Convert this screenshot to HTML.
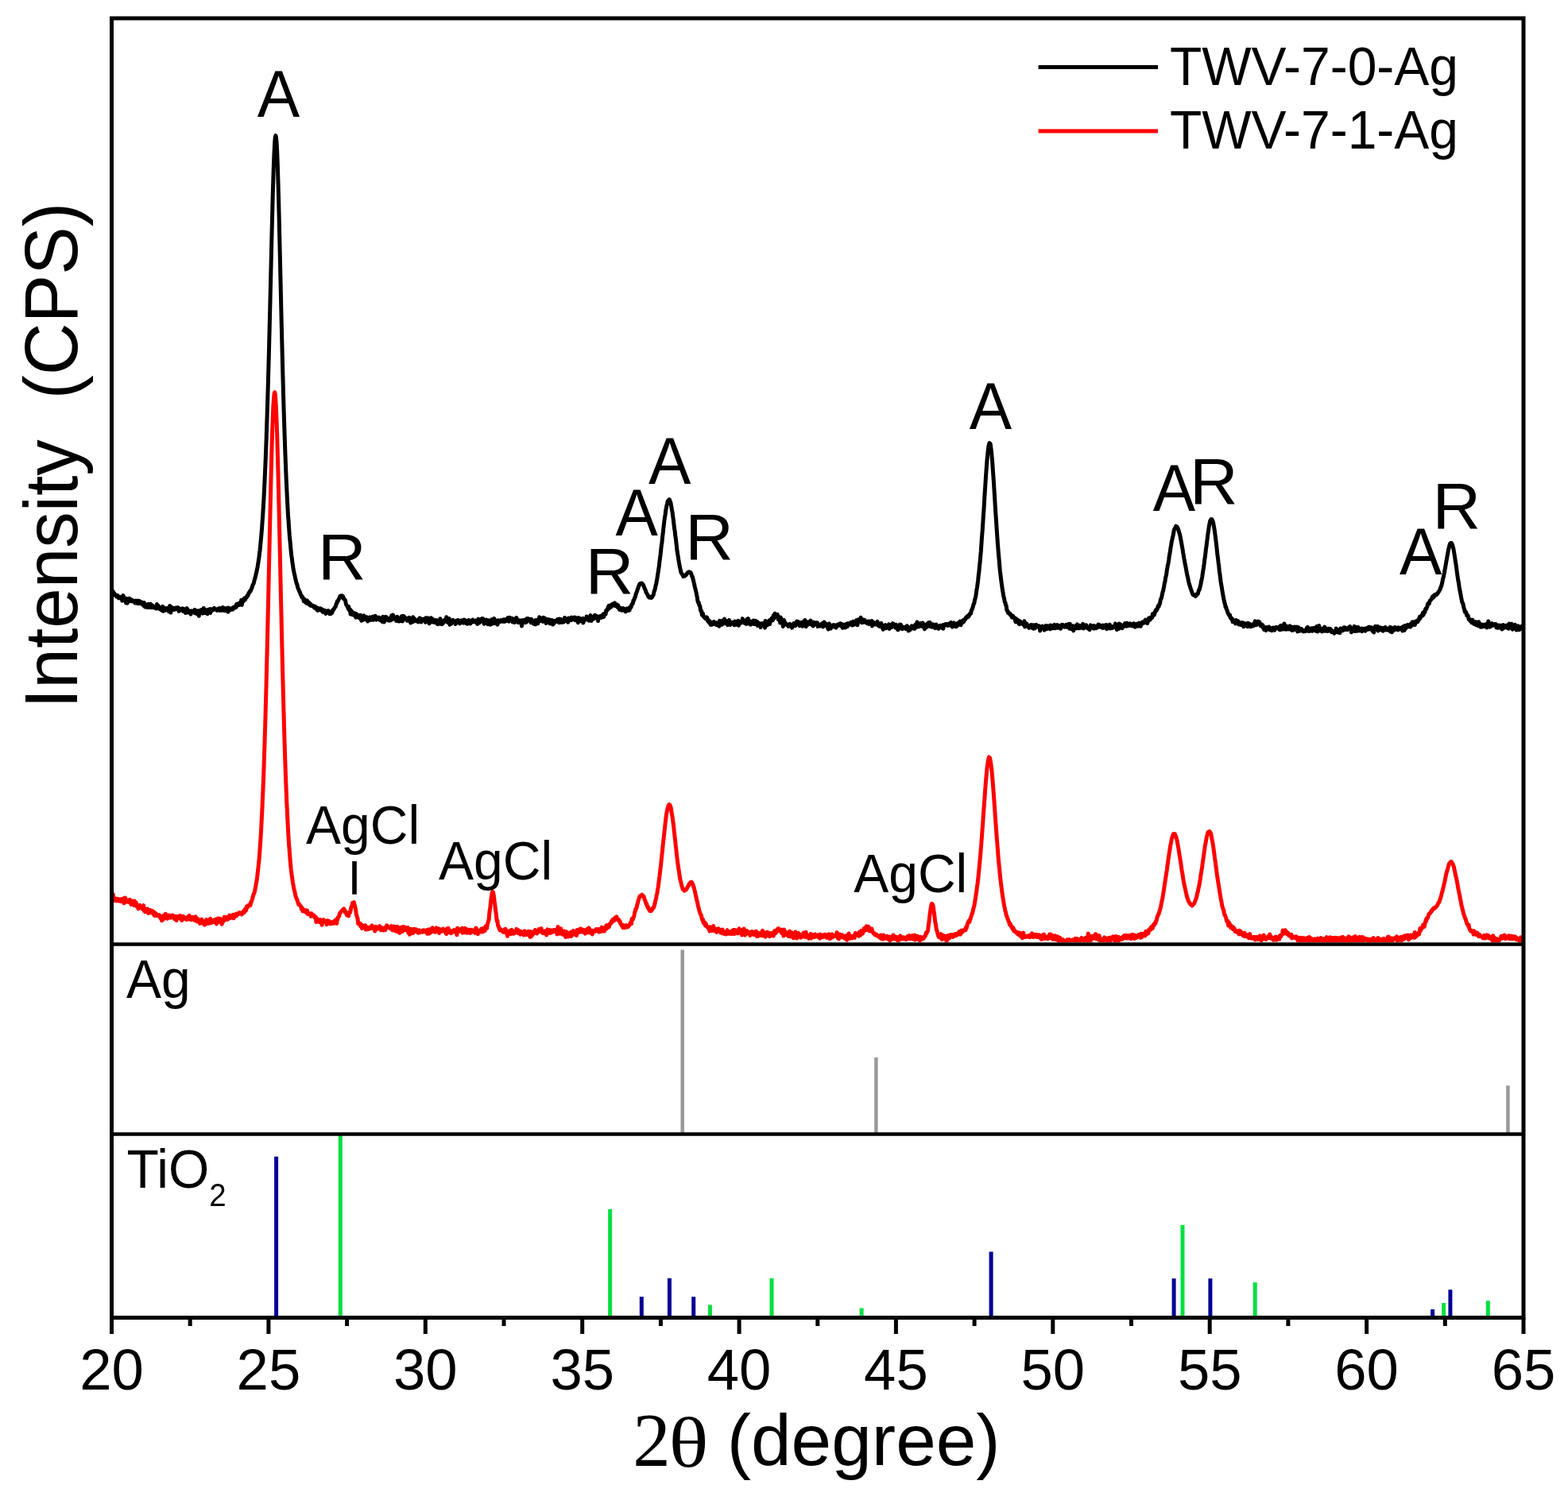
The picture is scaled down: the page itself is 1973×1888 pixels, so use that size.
<!DOCTYPE html><html><head><meta charset="utf-8"><style>html,body{margin:0;padding:0;background:#fff;}svg{display:block}</style></head><body><svg width="1973" height="1888" viewBox="0 0 1973 1888">
<rect width="1973" height="1888" fill="#fff"/>
<defs><clipPath id="cp"><rect x="140" y="23" width="1777" height="1163"/></clipPath></defs>
<g clip-path="url(#cp)">
<polyline points="140.5,746.3 141.1,747.5 141.7,746.9 142.3,744.4 142.9,748.7 143.5,748.3 144.1,747.0 144.7,749.4 145.3,749.5 145.9,749.8 146.5,749.8 147.1,751.2 147.7,749.3 148.3,750.8 148.9,750.6 149.5,752.9 150.1,752.3 150.7,752.0 151.3,751.4 151.9,752.7 152.5,753.4 153.1,753.1 153.7,756.1 154.3,755.8 154.9,749.4 155.5,751.0 156.1,754.2 156.7,753.9 157.3,755.2 157.9,755.4 158.5,758.9 159.1,753.3 159.7,754.8 160.3,759.2 160.9,756.9 161.5,757.0 162.1,755.1 162.7,753.2 163.3,756.6 163.9,756.6 164.5,754.4 165.1,755.4 165.7,756.6 166.3,755.2 166.9,756.7 167.5,757.2 168.1,757.1 168.7,756.3 169.3,758.3 169.9,758.9 170.5,758.0 171.1,756.1 171.7,758.9 172.3,756.8 172.9,759.4 173.5,756.1 174.1,759.7 174.7,758.3 175.3,756.3 175.9,758.2 176.5,759.1 177.1,759.7 177.7,757.8 178.3,757.9 178.9,760.5 179.5,759.7 180.1,761.3 180.7,762.5 181.3,758.5 181.9,762.1 182.5,764.0 183.1,761.6 183.7,760.9 184.3,763.9 184.9,763.1 185.5,764.4 186.1,762.3 186.7,760.4 187.3,762.9 187.9,762.4 188.5,764.5 189.1,763.5 189.7,760.4 190.3,761.1 190.9,764.8 191.5,764.5 192.1,762.2 192.7,763.4 193.3,764.2 193.9,764.4 194.5,765.2 195.1,764.2 195.7,763.7 196.3,763.6 196.9,766.0 197.5,760.4 198.1,764.3 198.7,764.7 199.3,762.4 199.9,765.6 200.5,764.0 201.1,766.8 201.7,765.2 202.3,766.7 202.9,767.8 203.5,766.4 204.1,764.4 204.7,763.4 205.3,769.2 205.9,766.1 206.5,765.2 207.1,766.8 207.7,766.3 208.3,768.2 208.9,766.9 209.5,766.9 210.1,765.7 210.7,767.8 211.3,765.2 211.9,768.1 212.5,769.6 213.1,764.2 213.7,762.5 214.3,767.8 214.9,771.1 215.5,764.9 216.1,764.4 216.7,767.6 217.3,765.1 217.9,765.6 218.5,765.9 219.1,767.4 219.7,765.8 220.3,767.0 220.9,766.2 221.5,765.1 222.1,766.0 222.7,765.0 223.3,766.6 223.9,764.7 224.5,764.9 225.1,769.3 225.7,766.8 226.3,766.9 226.9,767.9 227.5,766.5 228.1,766.9 228.7,768.2 229.3,768.1 229.9,765.8 230.5,769.4 231.1,767.1 231.7,766.5 232.3,767.0 232.9,768.0 233.5,771.6 234.1,767.0 234.7,769.4 235.3,765.6 235.9,769.3 236.5,770.9 237.1,769.1 237.7,768.5 238.3,770.0 238.9,770.9 239.5,770.9 240.1,773.1 240.7,770.2 241.3,768.9 241.9,769.8 242.5,769.9 243.1,770.3 243.7,770.1 244.3,770.5 244.9,767.5 245.5,771.8 246.1,769.5 246.7,768.5 247.3,771.6 247.9,772.7 248.5,771.3 249.1,770.8 249.7,768.9 250.3,775.3 250.9,771.9 251.5,768.5 252.1,769.0 252.7,770.4 253.3,767.6 253.9,770.4 254.5,769.3 255.1,772.1 255.7,771.6 256.3,765.4 256.9,770.0 257.5,767.2 258.1,771.6 258.7,770.0 259.3,770.6 259.9,767.9 260.5,772.5 261.1,772.7 261.7,767.6 262.3,769.8 262.9,767.9 263.5,768.8 264.1,766.6 264.7,771.5 265.3,766.7 265.9,767.7 266.5,768.8 267.1,766.7 267.7,767.3 268.3,766.6 268.9,767.2 269.5,765.4 270.1,766.6 270.7,766.9 271.3,766.7 271.9,767.3 272.5,766.8 273.1,768.5 273.7,766.8 274.3,767.2 274.9,766.4 275.5,766.7 276.1,765.5 276.7,768.4 277.3,765.8 277.9,766.5 278.5,768.2 279.1,768.3 279.7,767.0 280.3,764.5 280.9,768.3 281.5,768.0 282.1,765.5 282.7,768.8 283.3,766.6 283.9,765.9 284.5,767.8 285.1,767.4 285.7,767.9 286.3,765.2 286.9,770.3 287.5,766.7 288.1,765.2 288.7,768.3 289.3,766.8 289.9,767.7 290.5,766.6 291.1,766.8 291.7,767.0 292.3,765.4 292.9,767.1 293.5,765.2 294.1,764.3 294.7,765.2 295.3,765.3 295.9,764.0 296.5,762.7 297.1,764.3 297.7,760.6 298.3,761.1 298.9,762.1 299.5,759.8 300.1,761.2 300.7,760.6 301.3,761.3 301.9,758.5 302.5,758.4 303.1,759.1 303.7,755.2 304.3,761.4 304.9,756.4 305.5,755.8 306.1,757.1 306.7,755.6 307.3,753.0 307.9,755.1 308.5,754.7 309.1,752.6 309.7,752.0 310.3,752.0 310.9,749.9 311.5,750.3 312.1,749.2 312.7,747.4 313.3,745.8 313.9,745.8 314.5,744.1 315.1,744.4 315.7,742.5 316.3,741.6 316.9,739.8 317.5,738.4 318.1,736.2 318.7,735.3 319.3,734.1 319.9,731.2 320.5,729.0 321.1,727.0 321.7,724.5 322.3,721.8 322.9,719.5 323.5,716.3 324.1,713.8 324.7,709.6 325.3,705.8 325.9,701.9 326.5,696.6 327.1,692.3 327.7,685.8 328.3,679.5 328.9,673.0 329.5,665.7 330.1,657.0 330.7,648.7 331.3,638.2 331.9,628.9 332.5,616.6 333.1,603.7 333.7,589.9 334.3,575.4 334.9,559.5 335.5,542.0 336.1,523.8 336.7,504.6 337.3,483.8 337.9,462.7 338.5,440.0 339.1,415.8 339.7,391.5 340.3,365.6 340.9,341.1 341.5,315.5 342.1,290.8 342.7,267.2 343.3,242.9 343.9,223.5 344.5,204.9 345.1,190.9 345.7,179.1 346.3,172.6 346.9,170.6 347.5,173.1 348.1,179.9 348.7,191.1 349.3,206.7 349.9,226.3 350.5,247.6 351.1,270.5 351.7,296.8 352.3,322.5 352.9,349.0 353.5,374.7 354.1,401.0 354.7,425.2 355.3,450.1 355.9,472.7 356.5,495.2 357.1,516.1 357.7,534.8 358.3,553.3 358.9,570.3 359.5,586.6 360.1,600.9 360.7,613.4 361.3,626.5 361.9,637.9 362.5,648.8 363.1,656.5 363.7,665.6 364.3,674.2 364.9,680.1 365.5,686.6 366.1,693.3 366.7,698.8 367.3,702.9 367.9,707.9 368.5,711.7 369.1,716.1 369.7,718.8 370.3,722.3 370.9,724.3 371.5,727.3 372.1,729.8 372.7,732.7 373.3,734.5 373.9,735.9 374.5,738.6 375.1,740.6 375.7,741.8 376.3,743.3 376.9,744.9 377.5,745.3 378.1,748.0 378.7,749.3 379.3,749.6 379.9,752.0 380.5,751.1 381.1,752.7 381.7,753.6 382.3,756.8 382.9,753.9 383.5,756.7 384.1,757.7 384.7,757.6 385.3,759.0 385.9,757.0 386.5,755.9 387.1,759.8 387.7,757.9 388.3,759.2 388.9,758.5 389.5,761.6 390.1,761.7 390.7,760.0 391.3,762.4 391.9,761.7 392.5,761.7 393.1,762.3 393.7,762.3 394.3,763.7 394.9,763.6 395.5,763.1 396.1,765.3 396.7,763.4 397.3,765.0 397.9,765.5 398.5,767.3 399.1,764.9 399.7,768.4 400.3,766.5 400.9,766.2 401.5,765.8 402.1,767.8 402.7,767.3 403.3,765.8 403.9,766.0 404.5,767.0 405.1,767.0 405.7,769.7 406.3,770.3 406.9,769.7 407.5,769.1 408.1,768.1 408.7,769.0 409.3,770.4 409.9,772.4 410.5,770.7 411.1,769.1 411.7,769.7 412.3,769.1 412.9,768.7 413.5,769.7 414.1,770.3 414.7,772.7 415.3,770.0 415.9,771.8 416.5,772.3 417.1,769.5 417.7,771.4 418.3,769.6 418.9,767.5 419.5,767.8 420.1,766.7 420.7,765.5 421.3,764.5 421.9,763.9 422.5,763.0 423.1,760.1 423.7,759.8 424.3,756.7 424.9,757.3 425.5,756.3 426.1,754.4 426.7,753.2 427.3,752.4 427.9,750.2 428.5,749.9 429.1,750.0 429.7,750.3 430.3,749.9 430.9,752.2 431.5,750.6 432.1,752.6 432.7,754.1 433.3,754.1 433.9,754.8 434.5,755.8 435.1,758.8 435.7,761.4 436.3,761.8 436.9,763.1 437.5,763.7 438.1,766.1 438.7,763.5 439.3,767.8 439.9,768.4 440.5,767.1 441.1,773.1 441.7,768.4 442.3,769.4 442.9,769.8 443.5,773.8 444.1,771.1 444.7,773.9 445.3,774.2 445.9,774.0 446.5,771.8 447.1,773.2 447.7,777.2 448.3,772.6 448.9,773.6 449.5,775.0 450.1,776.8 450.7,776.2 451.3,777.2 451.9,774.5 452.5,778.0 453.1,777.7 453.7,774.3 454.3,779.7 454.9,781.2 455.5,776.3 456.1,777.8 456.7,780.3 457.3,775.6 457.9,774.9 458.5,776.2 459.1,777.5 459.7,777.6 460.3,779.7 460.9,779.2 461.5,776.7 462.1,779.8 462.7,782.0 463.3,780.8 463.9,780.5 464.5,778.7 465.1,780.3 465.7,776.9 466.3,779.8 466.9,778.2 467.5,780.2 468.1,779.0 468.7,776.3 469.3,778.3 469.9,780.1 470.5,776.0 471.1,776.9 471.7,776.5 472.3,775.3 472.9,779.5 473.5,780.1 474.1,779.3 474.7,778.4 475.3,778.0 475.9,778.6 476.5,777.0 477.1,780.0 477.7,780.4 478.3,780.3 478.9,778.0 479.5,779.2 480.1,778.9 480.7,782.4 481.3,779.8 481.9,776.3 482.5,780.4 483.1,783.0 483.7,781.0 484.3,781.4 484.9,779.9 485.5,776.4 486.1,776.7 486.7,777.6 487.3,779.5 487.9,780.2 488.5,780.8 489.1,778.9 489.7,781.1 490.3,779.0 490.9,778.2 491.5,780.9 492.1,777.8 492.7,774.7 493.3,777.6 493.9,779.6 494.5,774.1 495.1,778.8 495.7,778.9 496.3,776.9 496.9,776.8 497.5,778.5 498.1,778.3 498.7,781.4 499.3,779.8 499.9,776.3 500.5,777.4 501.1,780.0 501.7,782.0 502.3,779.3 502.9,779.0 503.5,781.7 504.1,778.3 504.7,777.7 505.3,775.7 505.9,777.3 506.5,781.9 507.1,775.6 507.7,778.1 508.3,775.6 508.9,778.3 509.5,779.6 510.1,777.7 510.7,779.4 511.3,779.5 511.9,779.0 512.5,781.3 513.1,779.8 513.7,778.0 514.3,777.5 514.9,777.3 515.5,779.8 516.1,778.6 516.7,784.1 517.3,782.7 517.9,779.3 518.5,779.2 519.1,782.9 519.7,776.8 520.3,779.4 520.9,782.0 521.5,778.8 522.1,779.7 522.7,780.0 523.3,781.8 523.9,781.0 524.5,781.5 525.1,781.9 525.7,780.9 526.3,782.9 526.9,779.7 527.5,778.5 528.1,777.9 528.7,778.2 529.3,780.2 529.9,783.0 530.5,781.5 531.1,780.2 531.7,779.4 532.3,780.4 532.9,780.7 533.5,780.4 534.1,778.9 534.7,780.7 535.3,783.3 535.9,777.7 536.5,781.2 537.1,777.9 537.7,782.0 538.3,780.3 538.9,778.0 539.5,781.8 540.1,784.8 540.7,781.8 541.3,783.7 541.9,781.5 542.5,777.8 543.1,782.5 543.7,780.9 544.3,779.1 544.9,783.1 545.5,782.3 546.1,781.0 546.7,783.5 547.3,780.6 547.9,783.4 548.5,780.7 549.1,783.5 549.7,780.7 550.3,785.5 550.9,783.4 551.5,785.7 552.1,781.8 552.7,782.6 553.3,785.0 553.9,778.8 554.5,781.8 555.1,785.6 555.7,784.6 556.3,785.5 556.9,783.2 557.5,784.7 558.1,782.4 558.7,781.2 559.3,780.5 559.9,782.4 560.5,782.3 561.1,782.1 561.7,776.8 562.3,779.5 562.9,782.0 563.5,783.4 564.1,781.8 564.7,781.2 565.3,778.6 565.9,786.2 566.5,780.6 567.1,785.5 567.7,785.3 568.3,782.9 568.9,781.4 569.5,782.6 570.1,780.3 570.7,782.8 571.3,782.3 571.9,783.3 572.5,784.0 573.1,785.4 573.7,781.6 574.3,784.2 574.9,780.9 575.5,780.8 576.1,781.3 576.7,780.7 577.3,784.2 577.9,784.2 578.5,784.8 579.1,782.6 579.7,783.2 580.3,781.7 580.9,780.8 581.5,783.7 582.1,783.4 582.7,781.0 583.3,784.1 583.9,780.0 584.5,782.8 585.1,782.0 585.7,782.2 586.3,781.2 586.9,784.8 587.5,784.1 588.1,785.2 588.7,783.3 589.3,780.8 589.9,782.4 590.5,780.9 591.1,783.7 591.7,785.0 592.3,783.4 592.9,781.7 593.5,782.0 594.1,783.0 594.7,780.0 595.3,782.8 595.9,782.8 596.5,781.5 597.1,781.7 597.7,782.7 598.3,780.9 598.9,780.9 599.5,783.8 600.1,782.8 600.7,785.4 601.3,780.6 601.9,779.2 602.5,784.1 603.1,784.1 603.7,781.1 604.3,779.8 604.9,782.3 605.5,779.3 606.1,781.8 606.7,778.6 607.3,782.1 607.9,778.8 608.5,782.1 609.1,785.3 609.7,782.1 610.3,784.0 610.9,781.5 611.5,781.1 612.1,780.1 612.7,784.6 613.3,782.7 613.9,785.7 614.5,780.8 615.1,782.5 615.7,783.1 616.3,785.4 616.9,786.2 617.5,781.8 618.1,780.9 618.7,779.9 619.3,785.3 619.9,782.8 620.5,781.8 621.1,782.8 621.7,778.4 622.3,779.9 622.9,784.6 623.5,783.7 624.1,783.2 624.7,781.2 625.3,784.0 625.9,786.1 626.5,780.7 627.1,782.9 627.7,782.0 628.3,783.3 628.9,782.5 629.5,782.1 630.1,780.6 630.7,782.0 631.3,780.7 631.9,781.3 632.5,781.2 633.1,782.3 633.7,779.8 634.3,780.1 634.9,782.4 635.5,779.9 636.1,779.7 636.7,781.6 637.3,780.4 637.9,780.0 638.5,780.2 639.1,777.6 639.7,780.6 640.3,782.2 640.9,780.9 641.5,777.2 642.1,780.5 642.7,778.5 643.3,779.8 643.9,780.6 644.5,778.4 645.1,782.9 645.7,780.6 646.3,782.2 646.9,782.0 647.5,783.4 648.1,783.2 648.7,778.5 649.3,781.2 649.9,777.4 650.5,780.5 651.1,782.5 651.7,782.9 652.3,783.6 652.9,780.7 653.5,781.9 654.1,781.5 654.7,783.6 655.3,784.2 655.9,780.8 656.5,788.1 657.1,781.5 657.7,780.9 658.3,782.5 658.9,782.8 659.5,782.3 660.1,780.2 660.7,783.7 661.3,781.1 661.9,783.4 662.5,782.9 663.1,778.4 663.7,778.7 664.3,778.6 664.9,780.6 665.5,780.4 666.1,780.9 666.7,779.3 667.3,781.7 667.9,783.6 668.5,779.3 669.1,781.4 669.7,782.4 670.3,781.9 670.9,781.9 671.5,785.3 672.1,784.5 672.7,783.7 673.3,780.8 673.9,785.9 674.5,782.5 675.1,780.6 675.7,780.9 676.3,780.4 676.9,784.8 677.5,781.3 678.1,780.9 678.7,776.8 679.3,781.8 679.9,778.5 680.5,778.3 681.1,781.4 681.7,778.7 682.3,781.7 682.9,782.3 683.5,777.2 684.1,780.2 684.7,777.8 685.3,780.6 685.9,782.5 686.5,778.6 687.1,784.4 687.7,780.9 688.3,779.5 688.9,781.6 689.5,783.4 690.1,779.7 690.7,782.3 691.3,780.0 691.9,784.7 692.5,782.9 693.1,782.0 693.7,784.6 694.3,780.5 694.9,782.1 695.5,786.0 696.1,782.5 696.7,785.1 697.3,783.0 697.9,781.4 698.5,782.1 699.1,782.6 699.7,781.7 700.3,780.9 700.9,781.0 701.5,779.7 702.1,782.5 702.7,783.0 703.3,783.6 703.9,779.0 704.5,783.6 705.1,782.1 705.7,779.5 706.3,782.1 706.9,783.3 707.5,782.7 708.1,782.9 708.7,783.2 709.3,783.0 709.9,781.2 710.5,777.4 711.1,779.6 711.7,781.4 712.3,779.8 712.9,781.6 713.5,781.7 714.1,780.2 714.7,783.2 715.3,778.1 715.9,781.3 716.5,778.7 717.1,778.1 717.7,780.4 718.3,778.2 718.9,780.7 719.5,777.1 720.1,779.2 720.7,777.6 721.3,778.7 721.9,778.5 722.5,777.2 723.1,780.4 723.7,777.1 724.3,777.7 724.9,781.0 725.5,781.2 726.1,780.8 726.7,780.2 727.3,783.7 727.9,777.6 728.5,778.5 729.1,778.1 729.7,781.4 730.3,780.3 730.9,781.8 731.5,781.6 732.1,779.5 732.7,778.5 733.3,778.3 733.9,783.9 734.5,781.7 735.1,781.1 735.7,779.5 736.3,779.8 736.9,779.6 737.5,779.6 738.1,776.0 738.7,779.9 739.3,779.3 739.9,780.3 740.5,780.1 741.1,781.0 741.7,779.3 742.3,780.5 742.9,774.6 743.5,776.9 744.1,781.5 744.7,776.3 745.3,777.7 745.9,779.2 746.5,776.4 747.1,779.0 747.7,775.3 748.3,774.5 748.9,775.4 749.5,774.8 750.1,777.6 750.7,777.0 751.3,778.1 751.9,775.8 752.5,781.6 753.1,777.2 753.7,777.1 754.3,777.7 754.9,776.4 755.5,775.5 756.1,776.4 756.7,777.3 757.3,776.5 757.9,776.5 758.5,773.7 759.1,772.9 759.7,776.5 760.3,772.5 760.9,773.0 761.5,772.7 762.1,772.9 762.7,768.3 763.3,768.9 763.9,768.2 764.5,767.6 765.1,764.1 765.7,766.4 766.3,762.2 766.9,765.4 767.5,765.0 768.1,764.4 768.7,761.7 769.3,763.7 769.9,761.1 770.5,760.3 771.1,760.3 771.7,760.3 772.3,761.3 772.9,762.0 773.5,758.9 774.1,760.8 774.7,762.6 775.3,762.2 775.9,762.9 776.5,761.0 777.1,764.3 777.7,761.8 778.3,764.4 778.9,766.3 779.5,767.4 780.1,766.1 780.7,767.0 781.3,765.4 781.9,765.9 782.5,768.3 783.1,767.0 783.7,767.1 784.3,765.5 784.9,767.7 785.5,768.5 786.1,766.6 786.7,767.1 787.3,769.9 787.9,768.0 788.5,767.2 789.1,765.9 789.7,766.5 790.3,766.7 790.9,768.5 791.5,765.5 792.1,768.1 792.7,764.0 793.3,764.0 793.9,764.6 794.5,762.3 795.1,760.6 795.7,760.2 796.3,759.5 796.9,755.8 797.5,755.8 798.1,754.3 798.7,752.3 799.3,751.5 799.9,748.6 800.5,746.9 801.1,745.3 801.7,743.8 802.3,741.4 802.9,740.6 803.5,737.8 804.1,737.4 804.7,735.3 805.3,734.7 805.9,734.3 806.5,734.7 807.1,734.2 807.7,734.0 808.3,735.3 808.9,735.5 809.5,736.3 810.1,738.1 810.7,739.3 811.3,741.2 811.9,741.9 812.5,744.0 813.1,745.6 813.7,746.7 814.3,747.8 814.9,748.4 815.5,750.6 816.1,750.9 816.7,751.9 817.3,751.6 817.9,752.2 818.5,751.4 819.1,752.3 819.7,752.5 820.3,751.3 820.9,751.1 821.5,749.6 822.1,749.0 822.7,746.3 823.3,743.5 823.9,742.7 824.5,740.0 825.1,737.0 825.7,734.8 826.3,731.5 826.9,728.2 827.5,724.2 828.1,720.5 828.7,716.4 829.3,712.7 829.9,707.0 830.5,702.6 831.1,697.8 831.7,691.9 832.3,686.7 832.9,683.2 833.5,676.2 834.1,671.9 834.7,666.1 835.3,661.0 835.9,655.5 836.5,651.3 837.1,647.6 837.7,642.5 838.3,639.7 838.9,636.3 839.5,634.4 840.1,631.2 840.7,630.5 841.3,629.5 841.9,628.8 842.5,628.8 843.1,631.4 843.7,632.0 844.3,634.8 844.9,638.4 845.5,642.0 846.1,645.1 846.7,649.7 847.3,654.1 847.9,659.5 848.5,665.0 849.1,668.1 849.7,674.3 850.3,677.6 850.9,683.7 851.5,688.0 852.1,693.9 852.7,697.5 853.3,701.2 853.9,705.1 854.5,708.6 855.1,712.1 855.7,714.8 856.3,717.7 856.9,720.2 857.5,721.7 858.1,722.2 858.7,723.2 859.3,724.3 859.9,725.6 860.5,725.2 861.1,725.0 861.7,725.1 862.3,723.9 862.9,723.5 863.5,723.5 864.1,722.4 864.7,721.6 865.3,721.3 865.9,720.3 866.5,719.9 867.1,719.8 867.7,720.3 868.3,720.3 868.9,720.4 869.5,721.7 870.1,723.3 870.7,725.4 871.3,725.8 871.9,728.5 872.5,730.5 873.1,733.3 873.7,735.7 874.3,738.8 874.9,741.0 875.5,743.3 876.1,746.0 876.7,749.3 877.3,752.0 877.9,756.3 878.5,758.3 879.1,758.0 879.7,761.7 880.3,762.0 880.9,763.5 881.5,768.1 882.1,769.6 882.7,769.0 883.3,774.0 883.9,771.6 884.5,772.5 885.1,776.1 885.7,776.4 886.3,776.6 886.9,777.5 887.5,778.6 888.1,778.6 888.7,779.1 889.3,776.8 889.9,778.1 890.5,781.7 891.1,780.0 891.7,782.4 892.3,783.8 892.9,781.6 893.5,782.9 894.1,786.2 894.7,784.2 895.3,786.4 895.9,786.2 896.5,785.1 897.1,783.9 897.7,782.9 898.3,782.6 898.9,785.4 899.5,785.5 900.1,784.5 900.7,786.2 901.3,783.8 901.9,786.6 902.5,784.7 903.1,784.5 903.7,784.4 904.3,784.1 904.9,788.3 905.5,781.2 906.1,784.0 906.7,785.7 907.3,784.7 907.9,782.8 908.5,786.2 909.1,781.4 909.7,780.9 910.3,784.1 910.9,780.6 911.5,779.1 912.1,784.7 912.7,784.6 913.3,784.6 913.9,782.6 914.5,783.8 915.1,781.9 915.7,786.7 916.3,785.1 916.9,785.1 917.5,780.5 918.1,785.3 918.7,786.5 919.3,786.1 919.9,785.4 920.5,784.0 921.1,783.4 921.7,785.0 922.3,784.7 922.9,784.4 923.5,783.4 924.1,786.9 924.7,781.9 925.3,783.9 925.9,782.9 926.5,785.7 927.1,786.3 927.7,786.0 928.3,785.1 928.9,781.3 929.5,787.3 930.1,784.5 930.7,783.3 931.3,783.5 931.9,782.8 932.5,784.0 933.1,783.8 933.7,782.5 934.3,778.6 934.9,783.0 935.5,783.8 936.1,783.8 936.7,782.6 937.3,783.7 937.9,784.7 938.5,782.0 939.1,785.4 939.7,779.4 940.3,780.7 940.9,781.3 941.5,778.6 942.1,781.2 942.7,785.2 943.3,785.2 943.9,783.3 944.5,786.2 945.1,783.6 945.7,782.4 946.3,783.8 946.9,783.2 947.5,784.8 948.1,780.9 948.7,785.4 949.3,783.0 949.9,785.4 950.5,781.3 951.1,783.4 951.7,784.4 952.3,786.0 952.9,782.4 953.5,787.6 954.1,785.6 954.7,784.0 955.3,787.2 955.9,785.4 956.5,787.3 957.1,789.5 957.7,786.9 958.3,784.7 958.9,785.0 959.5,786.9 960.1,786.4 960.7,784.5 961.3,784.9 961.9,787.2 962.5,790.1 963.1,781.4 963.7,787.2 964.3,785.5 964.9,787.0 965.5,787.0 966.1,785.3 966.7,783.1 967.3,782.1 967.9,780.8 968.5,785.6 969.1,782.5 969.7,781.3 970.3,780.9 970.9,778.4 971.5,780.2 972.1,780.9 972.7,779.7 973.3,774.6 973.9,778.3 974.5,774.4 975.1,772.2 975.7,773.0 976.3,773.3 976.9,774.9 977.5,773.7 978.1,773.4 978.7,775.9 979.3,780.0 979.9,776.5 980.5,779.1 981.1,779.1 981.7,784.0 982.3,777.0 982.9,782.6 983.5,779.2 984.1,780.8 984.7,782.2 985.3,788.4 985.9,782.0 986.5,780.5 987.1,786.4 987.7,783.1 988.3,784.6 988.9,785.3 989.5,785.9 990.1,785.7 990.7,786.8 991.3,787.2 991.9,788.3 992.5,786.2 993.1,785.8 993.7,785.3 994.3,788.3 994.9,787.2 995.5,788.3 996.1,788.2 996.7,790.2 997.3,787.5 997.9,788.4 998.5,784.8 999.1,784.9 999.7,786.2 1000.3,784.5 1000.9,787.7 1001.5,784.1 1002.1,786.5 1002.7,781.9 1003.3,784.3 1003.9,785.6 1004.5,785.6 1005.1,782.9 1005.7,786.2 1006.3,787.7 1006.9,787.1 1007.5,784.7 1008.1,784.8 1008.7,783.7 1009.3,786.9 1009.9,788.2 1010.5,784.7 1011.1,782.5 1011.7,785.8 1012.3,786.6 1012.9,780.4 1013.5,785.3 1014.1,788.8 1014.7,786.3 1015.3,785.7 1015.9,785.3 1016.5,786.4 1017.1,782.8 1017.7,782.9 1018.3,785.1 1018.9,783.2 1019.5,784.9 1020.1,781.1 1020.7,785.9 1021.3,786.2 1021.9,784.9 1022.5,785.2 1023.1,788.0 1023.7,783.3 1024.3,783.8 1024.9,783.6 1025.5,785.0 1026.1,784.1 1026.7,786.1 1027.3,785.0 1027.9,783.7 1028.5,783.7 1029.1,788.6 1029.7,786.4 1030.3,786.2 1030.9,786.7 1031.5,786.5 1032.1,788.0 1032.7,787.7 1033.3,785.6 1033.9,785.2 1034.5,784.7 1035.1,784.4 1035.7,789.0 1036.3,784.9 1036.9,783.0 1037.5,785.0 1038.1,785.1 1038.7,787.1 1039.3,785.0 1039.9,787.6 1040.5,787.4 1041.1,789.0 1041.7,790.7 1042.3,792.0 1042.9,789.5 1043.5,785.1 1044.1,786.6 1044.7,787.8 1045.3,791.1 1045.9,788.6 1046.5,789.6 1047.1,787.2 1047.7,788.5 1048.3,788.7 1048.9,786.6 1049.5,788.7 1050.1,789.2 1050.7,786.9 1051.3,789.0 1051.9,790.0 1052.5,787.2 1053.1,787.1 1053.7,786.6 1054.3,786.0 1054.9,787.4 1055.5,786.5 1056.1,786.7 1056.7,786.0 1057.3,784.7 1057.9,785.8 1058.5,788.1 1059.1,785.5 1059.7,786.5 1060.3,790.4 1060.9,789.5 1061.5,786.3 1062.1,788.5 1062.7,786.2 1063.3,790.0 1063.9,786.0 1064.5,787.0 1065.1,789.1 1065.7,785.1 1066.3,788.6 1066.9,784.8 1067.5,786.4 1068.1,785.3 1068.7,785.5 1069.3,785.8 1069.9,785.2 1070.5,783.5 1071.1,786.5 1071.7,786.1 1072.3,786.9 1072.9,786.9 1073.5,782.2 1074.1,786.3 1074.7,786.1 1075.3,782.9 1075.9,785.2 1076.5,785.7 1077.1,782.2 1077.7,780.5 1078.3,781.9 1078.9,786.8 1079.5,782.4 1080.1,779.9 1080.7,781.3 1081.3,780.0 1081.9,780.8 1082.5,781.5 1083.1,777.3 1083.7,781.9 1084.3,783.7 1084.9,781.2 1085.5,781.1 1086.1,783.5 1086.7,780.0 1087.3,780.2 1087.9,780.2 1088.5,782.3 1089.1,783.4 1089.7,782.8 1090.3,783.9 1090.9,784.5 1091.5,784.1 1092.1,782.1 1092.7,783.1 1093.3,785.5 1093.9,781.9 1094.5,783.2 1095.1,783.0 1095.7,783.4 1096.3,782.0 1096.9,781.6 1097.5,788.0 1098.1,785.5 1098.7,782.9 1099.3,784.2 1099.9,785.6 1100.5,784.1 1101.1,786.0 1101.7,784.2 1102.3,784.9 1102.9,785.7 1103.5,785.4 1104.1,782.4 1104.7,786.8 1105.3,787.5 1105.9,788.1 1106.5,785.9 1107.1,788.4 1107.7,788.3 1108.3,785.1 1108.9,784.5 1109.5,789.2 1110.1,786.9 1110.7,790.3 1111.3,792.3 1111.9,787.6 1112.5,787.5 1113.1,788.6 1113.7,789.8 1114.3,786.6 1114.9,790.7 1115.5,790.1 1116.1,789.5 1116.7,787.3 1117.3,789.7 1117.9,789.5 1118.5,785.8 1119.1,791.5 1119.7,787.2 1120.3,788.3 1120.9,786.7 1121.5,788.3 1122.1,789.6 1122.7,786.2 1123.3,784.7 1123.9,786.8 1124.5,785.4 1125.1,786.4 1125.7,787.5 1126.3,787.7 1126.9,790.1 1127.5,786.2 1128.1,788.7 1128.7,787.2 1129.3,790.6 1129.9,792.8 1130.5,789.0 1131.1,791.5 1131.7,787.8 1132.3,786.1 1132.9,786.9 1133.5,786.5 1134.1,787.8 1134.7,789.2 1135.3,791.8 1135.9,791.2 1136.5,791.0 1137.1,789.6 1137.7,789.3 1138.3,790.7 1138.9,791.0 1139.5,791.4 1140.1,791.6 1140.7,790.8 1141.3,787.7 1141.9,789.1 1142.5,789.6 1143.1,793.9 1143.7,790.1 1144.3,791.9 1144.9,793.1 1145.5,790.9 1146.1,789.4 1146.7,789.3 1147.3,787.8 1147.9,789.8 1148.5,790.9 1149.1,789.7 1149.7,789.7 1150.3,789.4 1150.9,791.4 1151.5,786.6 1152.1,787.8 1152.7,788.6 1153.3,789.4 1153.9,783.0 1154.5,786.3 1155.1,786.8 1155.7,785.4 1156.3,788.7 1156.9,787.6 1157.5,786.6 1158.1,784.5 1158.7,785.1 1159.3,785.8 1159.9,788.3 1160.5,785.4 1161.1,784.0 1161.7,785.1 1162.3,786.5 1162.9,790.4 1163.5,791.8 1164.1,786.6 1164.7,789.0 1165.3,789.7 1165.9,789.4 1166.5,786.9 1167.1,784.8 1167.7,786.1 1168.3,783.7 1168.9,787.2 1169.5,788.1 1170.1,783.4 1170.7,786.6 1171.3,787.2 1171.9,788.9 1172.5,789.1 1173.1,788.2 1173.7,785.8 1174.3,786.5 1174.9,789.4 1175.5,786.5 1176.1,787.6 1176.7,790.6 1177.3,788.4 1177.9,786.0 1178.5,788.1 1179.1,789.8 1179.7,788.6 1180.3,791.0 1180.9,791.3 1181.5,788.1 1182.1,788.4 1182.7,789.1 1183.3,787.2 1183.9,789.7 1184.5,788.7 1185.1,790.1 1185.7,787.6 1186.3,786.9 1186.9,791.2 1187.5,786.5 1188.1,786.7 1188.7,786.2 1189.3,786.7 1189.9,785.5 1190.5,786.8 1191.1,785.5 1191.7,785.8 1192.3,787.0 1192.9,787.5 1193.5,787.1 1194.1,785.1 1194.7,786.9 1195.3,786.0 1195.9,786.1 1196.5,783.5 1197.1,787.4 1197.7,786.1 1198.3,789.1 1198.9,787.3 1199.5,784.5 1200.1,784.0 1200.7,788.0 1201.3,784.6 1201.9,787.0 1202.5,785.3 1203.1,788.9 1203.7,785.5 1204.3,787.5 1204.9,787.0 1205.5,783.9 1206.1,783.9 1206.7,786.3 1207.3,783.8 1207.9,782.1 1208.5,784.9 1209.1,786.6 1209.7,782.4 1210.3,784.2 1210.9,781.5 1211.5,783.3 1212.1,780.6 1212.7,782.5 1213.3,781.0 1213.9,779.5 1214.5,779.7 1215.1,778.2 1215.7,776.9 1216.3,776.5 1216.9,777.3 1217.5,775.4 1218.1,776.7 1218.7,776.0 1219.3,775.2 1219.9,773.1 1220.5,772.8 1221.1,771.6 1221.7,772.0 1222.3,768.3 1222.9,767.4 1223.5,766.0 1224.1,764.3 1224.7,761.9 1225.3,760.0 1225.9,759.0 1226.5,755.3 1227.1,753.5 1227.7,751.0 1228.3,747.2 1228.9,742.2 1229.5,739.4 1230.1,734.9 1230.7,730.2 1231.3,724.1 1231.9,719.7 1232.5,712.9 1233.1,707.6 1233.7,700.6 1234.3,694.0 1234.9,685.0 1235.5,676.4 1236.1,669.0 1236.7,660.1 1237.3,650.4 1237.9,641.8 1238.5,632.0 1239.1,621.5 1239.7,612.4 1240.3,603.0 1240.9,594.2 1241.5,586.0 1242.1,577.9 1242.7,571.5 1243.3,566.3 1243.9,561.7 1244.5,558.9 1245.1,557.7 1245.7,558.2 1246.3,559.4 1246.9,563.9 1247.5,568.4 1248.1,575.2 1248.7,581.7 1249.3,591.0 1249.9,599.4 1250.5,608.0 1251.1,618.2 1251.7,627.4 1252.3,638.1 1252.9,647.1 1253.5,655.8 1254.1,665.2 1254.7,673.8 1255.3,682.7 1255.9,690.2 1256.5,697.7 1257.1,704.0 1257.7,711.5 1258.3,718.2 1258.9,723.2 1259.5,728.2 1260.1,733.2 1260.7,737.2 1261.3,741.8 1261.9,745.0 1262.5,748.9 1263.1,751.7 1263.7,754.2 1264.3,757.6 1264.9,758.3 1265.5,761.5 1266.1,762.2 1266.7,766.9 1267.3,768.7 1267.9,768.9 1268.5,771.4 1269.1,771.1 1269.7,772.1 1270.3,771.9 1270.9,772.2 1271.5,774.2 1272.1,774.1 1272.7,774.9 1273.3,777.0 1273.9,776.5 1274.5,775.1 1275.1,777.4 1275.7,777.2 1276.3,778.3 1276.9,777.6 1277.5,781.3 1278.1,782.8 1278.7,778.8 1279.3,781.8 1279.9,782.2 1280.5,780.1 1281.1,782.2 1281.7,784.6 1282.3,784.1 1282.9,785.7 1283.5,781.8 1284.1,782.8 1284.7,784.7 1285.3,785.1 1285.9,784.9 1286.5,784.5 1287.1,784.8 1287.7,784.7 1288.3,786.7 1288.9,781.8 1289.5,788.9 1290.1,785.8 1290.7,784.6 1291.3,787.9 1291.9,785.0 1292.5,788.1 1293.1,787.1 1293.7,788.9 1294.3,789.4 1294.9,790.4 1295.5,787.6 1296.1,788.1 1296.7,788.7 1297.3,786.5 1297.9,789.9 1298.5,789.2 1299.1,786.8 1299.7,791.0 1300.3,791.2 1300.9,786.7 1301.5,789.8 1302.1,790.9 1302.7,790.1 1303.3,787.0 1303.9,786.3 1304.5,788.4 1305.1,787.7 1305.7,788.6 1306.3,788.4 1306.9,789.6 1307.5,787.8 1308.1,788.6 1308.7,794.0 1309.3,788.9 1309.9,790.5 1310.5,789.8 1311.1,789.8 1311.7,788.0 1312.3,790.5 1312.9,789.5 1313.5,791.0 1314.1,793.1 1314.7,789.8 1315.3,790.7 1315.9,787.6 1316.5,789.5 1317.1,791.8 1317.7,788.9 1318.3,787.8 1318.9,789.2 1319.5,788.4 1320.1,788.2 1320.7,788.0 1321.3,791.9 1321.9,787.0 1322.5,787.8 1323.1,787.5 1323.7,790.6 1324.3,788.1 1324.9,790.8 1325.5,788.9 1326.1,788.6 1326.7,786.2 1327.3,790.8 1327.9,789.6 1328.5,789.4 1329.1,788.5 1329.7,788.0 1330.3,786.6 1330.9,790.4 1331.5,789.2 1332.1,788.1 1332.7,787.6 1333.3,788.8 1333.9,788.4 1334.5,791.3 1335.1,789.8 1335.7,787.4 1336.3,786.4 1336.9,787.9 1337.5,786.6 1338.1,788.3 1338.7,788.8 1339.3,789.2 1339.9,788.7 1340.5,787.7 1341.1,789.0 1341.7,786.4 1342.3,787.8 1342.9,789.4 1343.5,788.5 1344.1,785.8 1344.7,786.0 1345.3,785.3 1345.9,791.3 1346.5,785.5 1347.1,788.0 1347.7,791.5 1348.3,790.3 1348.9,790.7 1349.5,787.7 1350.1,789.8 1350.7,793.9 1351.3,788.6 1351.9,789.4 1352.5,788.1 1353.1,788.6 1353.7,789.3 1354.3,791.0 1354.9,787.0 1355.5,786.0 1356.1,788.5 1356.7,788.8 1357.3,790.8 1357.9,789.6 1358.5,787.3 1359.1,789.3 1359.7,790.3 1360.3,788.9 1360.9,787.9 1361.5,789.7 1362.1,788.0 1362.7,785.4 1363.3,791.1 1363.9,786.6 1364.5,788.4 1365.1,788.5 1365.7,788.5 1366.3,788.7 1366.9,786.8 1367.5,790.2 1368.1,789.4 1368.7,789.5 1369.3,791.3 1369.9,791.4 1370.5,791.8 1371.1,792.7 1371.7,790.3 1372.3,786.9 1372.9,789.9 1373.5,789.6 1374.1,789.7 1374.7,788.5 1375.3,788.0 1375.9,790.9 1376.5,791.2 1377.1,787.6 1377.7,790.5 1378.3,789.3 1378.9,788.9 1379.5,790.7 1380.1,789.4 1380.7,788.5 1381.3,789.5 1381.9,785.9 1382.5,788.3 1383.1,788.4 1383.7,786.7 1384.3,789.3 1384.9,789.3 1385.5,787.7 1386.1,788.4 1386.7,789.7 1387.3,790.3 1387.9,787.1 1388.5,788.9 1389.1,790.1 1389.7,788.2 1390.3,787.0 1390.9,787.0 1391.5,787.7 1392.1,786.5 1392.7,791.7 1393.3,787.3 1393.9,788.9 1394.5,788.6 1395.1,789.4 1395.7,787.6 1396.3,786.0 1396.9,791.0 1397.5,788.1 1398.1,788.4 1398.7,788.5 1399.3,790.4 1399.9,789.5 1400.5,790.2 1401.1,789.6 1401.7,788.5 1402.3,788.7 1402.9,787.0 1403.5,784.9 1404.1,787.8 1404.7,786.4 1405.3,792.6 1405.9,790.8 1406.5,790.1 1407.1,787.2 1407.7,791.5 1408.3,785.1 1408.9,785.9 1409.5,786.6 1410.1,786.2 1410.7,788.0 1411.3,788.0 1411.9,790.8 1412.5,789.2 1413.1,789.5 1413.7,788.1 1414.3,787.1 1414.9,786.1 1415.5,784.6 1416.1,785.6 1416.7,786.4 1417.3,788.3 1417.9,784.2 1418.5,784.7 1419.1,787.3 1419.7,785.2 1420.3,787.6 1420.9,786.4 1421.5,785.9 1422.1,785.0 1422.7,787.1 1423.3,786.2 1423.9,786.4 1424.5,786.5 1425.1,787.9 1425.7,787.8 1426.3,784.8 1426.9,787.3 1427.5,788.2 1428.1,789.1 1428.7,788.6 1429.3,787.6 1429.9,785.2 1430.5,785.6 1431.1,788.1 1431.7,785.3 1432.3,787.9 1432.9,788.0 1433.5,784.1 1434.1,786.3 1434.7,785.2 1435.3,788.3 1435.9,786.3 1436.5,783.9 1437.1,785.2 1437.7,782.9 1438.3,783.9 1438.9,784.2 1439.5,783.9 1440.1,783.9 1440.7,781.8 1441.3,780.1 1441.9,782.0 1442.5,780.9 1443.1,780.8 1443.7,784.6 1444.3,782.7 1444.9,780.3 1445.5,778.0 1446.1,777.7 1446.7,779.5 1447.3,780.0 1447.9,777.5 1448.5,777.4 1449.1,777.0 1449.7,777.4 1450.3,772.8 1450.9,774.8 1451.5,774.3 1452.1,774.2 1452.7,772.7 1453.3,769.9 1453.9,769.7 1454.5,767.6 1455.1,768.6 1455.7,767.4 1456.3,766.6 1456.9,763.8 1457.5,762.3 1458.1,763.4 1458.7,760.6 1459.3,760.2 1459.9,757.3 1460.5,754.0 1461.1,753.6 1461.7,751.7 1462.3,748.5 1462.9,745.4 1463.5,744.0 1464.1,741.0 1464.7,738.3 1465.3,734.0 1465.9,732.4 1466.5,727.7 1467.1,725.3 1467.7,722.7 1468.3,717.9 1468.9,714.3 1469.5,711.3 1470.1,708.5 1470.7,704.8 1471.3,700.0 1471.9,697.0 1472.5,693.0 1473.1,689.2 1473.7,685.7 1474.3,681.7 1474.9,679.1 1475.5,676.2 1476.1,674.1 1476.7,670.7 1477.3,667.0 1477.9,665.7 1478.5,664.9 1479.1,663.7 1479.7,662.2 1480.3,662.8 1480.9,662.9 1481.5,663.8 1482.1,664.8 1482.7,666.8 1483.3,668.9 1483.9,670.7 1484.5,672.4 1485.1,675.3 1485.7,678.4 1486.3,681.8 1486.9,684.9 1487.5,688.4 1488.1,691.6 1488.7,695.9 1489.3,699.4 1489.9,703.0 1490.5,706.0 1491.1,709.6 1491.7,712.3 1492.3,715.5 1492.9,718.9 1493.5,722.4 1494.1,725.0 1494.7,727.3 1495.3,730.4 1495.9,733.1 1496.5,735.3 1497.1,737.1 1497.7,739.4 1498.3,741.0 1498.9,742.8 1499.5,744.4 1500.1,746.1 1500.7,747.8 1501.3,748.7 1501.9,749.0 1502.5,749.1 1503.1,749.5 1503.7,749.7 1504.3,750.5 1504.9,748.2 1505.5,749.4 1506.1,747.7 1506.7,747.8 1507.3,747.3 1507.9,744.9 1508.5,742.7 1509.1,742.5 1509.7,740.4 1510.3,737.6 1510.9,735.3 1511.5,731.5 1512.1,729.3 1512.7,726.1 1513.3,722.0 1513.9,718.0 1514.5,714.3 1515.1,710.0 1515.7,704.7 1516.3,701.0 1516.9,696.0 1517.5,691.0 1518.1,686.7 1518.7,681.8 1519.3,677.1 1519.9,672.0 1520.5,668.5 1521.1,663.8 1521.7,660.8 1522.3,657.3 1522.9,655.0 1523.5,654.4 1524.1,653.4 1524.7,653.4 1525.3,654.3 1525.9,655.7 1526.5,657.3 1527.1,660.6 1527.7,664.0 1528.3,667.7 1528.9,672.2 1529.5,676.8 1530.1,681.7 1530.7,686.9 1531.3,692.4 1531.9,698.4 1532.5,702.4 1533.1,708.1 1533.7,712.3 1534.3,718.6 1534.9,722.4 1535.5,727.2 1536.1,732.1 1536.7,736.1 1537.3,738.9 1537.9,743.5 1538.5,746.6 1539.1,750.3 1539.7,753.2 1540.3,756.4 1540.9,758.8 1541.5,760.9 1542.1,764.3 1542.7,763.8 1543.3,766.7 1543.9,767.8 1544.5,770.2 1545.1,771.3 1545.7,772.9 1546.3,773.6 1546.9,774.7 1547.5,774.1 1548.1,777.0 1548.7,778.3 1549.3,777.8 1549.9,778.4 1550.5,779.0 1551.1,782.8 1551.7,781.2 1552.3,781.9 1552.9,781.3 1553.5,781.4 1554.1,781.2 1554.7,785.1 1555.3,780.5 1555.9,783.8 1556.5,783.5 1557.1,783.4 1557.7,781.6 1558.3,782.3 1558.9,786.0 1559.5,783.6 1560.1,786.2 1560.7,786.1 1561.3,786.1 1561.9,786.6 1562.5,783.6 1563.1,784.9 1563.7,786.9 1564.3,784.0 1564.9,788.8 1565.5,785.4 1566.1,786.3 1566.7,784.8 1567.3,787.1 1567.9,785.4 1568.5,786.3 1569.1,784.9 1569.7,788.7 1570.3,784.2 1570.9,787.6 1571.5,787.3 1572.1,787.7 1572.7,785.4 1573.3,788.8 1573.9,788.7 1574.5,787.4 1575.1,787.6 1575.7,786.8 1576.3,788.0 1576.9,785.5 1577.5,787.6 1578.1,787.1 1578.7,784.0 1579.3,781.8 1579.9,785.3 1580.5,784.9 1581.1,786.6 1581.7,784.5 1582.3,783.4 1582.9,782.0 1583.5,783.9 1584.1,783.4 1584.7,783.0 1585.3,785.1 1585.9,787.5 1586.5,786.8 1587.1,785.7 1587.7,788.5 1588.3,786.9 1588.9,786.7 1589.5,790.5 1590.1,789.3 1590.7,792.4 1591.3,791.3 1591.9,789.7 1592.5,791.5 1593.1,793.5 1593.7,791.0 1594.3,789.6 1594.9,790.3 1595.5,790.0 1596.1,789.3 1596.7,789.0 1597.3,791.9 1597.9,793.0 1598.5,790.4 1599.1,792.3 1599.7,792.5 1600.3,793.7 1600.9,790.5 1601.5,790.2 1602.1,791.5 1602.7,790.9 1603.3,791.3 1603.9,793.1 1604.5,790.1 1605.1,791.3 1605.7,789.3 1606.3,790.8 1606.9,789.9 1607.5,789.8 1608.1,790.8 1608.7,790.4 1609.3,791.8 1609.9,792.6 1610.5,788.6 1611.1,792.8 1611.7,787.2 1612.3,791.4 1612.9,792.1 1613.5,789.7 1614.1,790.3 1614.7,789.2 1615.3,792.0 1615.9,784.9 1616.5,788.6 1617.1,786.8 1617.7,790.4 1618.3,792.3 1618.9,792.0 1619.5,791.1 1620.1,790.3 1620.7,788.6 1621.3,792.0 1621.9,791.0 1622.5,788.5 1623.1,787.8 1623.7,789.1 1624.3,792.2 1624.9,792.6 1625.5,793.3 1626.1,789.3 1626.7,790.1 1627.3,793.3 1627.9,791.4 1628.5,792.5 1629.1,789.0 1629.7,790.8 1630.3,791.5 1630.9,791.1 1631.5,791.1 1632.1,789.1 1632.7,794.9 1633.3,792.4 1633.9,789.7 1634.5,794.3 1635.1,792.6 1635.7,793.9 1636.3,792.4 1636.9,791.4 1637.5,791.5 1638.1,793.5 1638.7,794.2 1639.3,793.7 1639.9,794.0 1640.5,794.9 1641.1,793.2 1641.7,794.4 1642.3,794.5 1642.9,793.0 1643.5,792.2 1644.1,791.5 1644.7,790.0 1645.3,789.3 1645.9,794.2 1646.5,791.8 1647.1,790.8 1647.7,794.4 1648.3,793.2 1648.9,791.5 1649.5,793.1 1650.1,790.9 1650.7,791.8 1651.3,794.3 1651.9,792.9 1652.5,790.5 1653.1,792.1 1653.7,792.9 1654.3,790.6 1654.9,790.1 1655.5,794.2 1656.1,790.4 1656.7,788.6 1657.3,791.3 1657.9,795.1 1658.5,792.3 1659.1,793.0 1659.7,787.6 1660.3,790.5 1660.9,793.7 1661.5,791.0 1662.1,794.1 1662.7,792.7 1663.3,792.6 1663.9,794.9 1664.5,791.1 1665.1,791.2 1665.7,792.2 1666.3,792.4 1666.9,789.1 1667.5,794.3 1668.1,792.5 1668.7,791.9 1669.3,793.3 1669.9,791.6 1670.5,794.5 1671.1,792.6 1671.7,793.9 1672.3,791.2 1672.9,792.5 1673.5,793.8 1674.1,791.6 1674.7,792.3 1675.3,793.5 1675.9,795.8 1676.5,795.3 1677.1,795.7 1677.7,794.8 1678.3,796.0 1678.9,797.2 1679.5,794.9 1680.1,795.4 1680.7,795.7 1681.3,791.1 1681.9,794.4 1682.5,795.3 1683.1,795.8 1683.7,793.8 1684.3,795.9 1684.9,792.9 1685.5,793.5 1686.1,796.6 1686.7,791.0 1687.3,793.1 1687.9,792.7 1688.5,792.6 1689.1,791.7 1689.7,793.6 1690.3,790.4 1690.9,789.8 1691.5,792.9 1692.1,789.8 1692.7,792.5 1693.3,791.8 1693.9,790.5 1694.5,791.1 1695.1,791.5 1695.7,792.5 1696.3,790.6 1696.9,791.4 1697.5,789.3 1698.1,791.4 1698.7,788.5 1699.3,791.9 1699.9,791.3 1700.5,795.8 1701.1,794.5 1701.7,792.0 1702.3,794.0 1702.9,792.9 1703.5,790.5 1704.1,788.3 1704.7,794.5 1705.3,793.3 1705.9,789.2 1706.5,793.8 1707.1,794.2 1707.7,791.4 1708.3,794.0 1708.9,789.5 1709.5,792.1 1710.1,792.5 1710.7,793.8 1711.3,793.1 1711.9,792.7 1712.5,793.2 1713.1,791.0 1713.7,794.7 1714.3,791.4 1714.9,793.4 1715.5,791.9 1716.1,791.5 1716.7,792.9 1717.3,792.6 1717.9,794.1 1718.5,793.6 1719.1,790.7 1719.7,792.6 1720.3,791.9 1720.9,790.3 1721.5,789.7 1722.1,792.1 1722.7,790.7 1723.3,789.2 1723.9,791.5 1724.5,792.1 1725.1,791.9 1725.7,789.7 1726.3,790.8 1726.9,794.3 1727.5,790.5 1728.1,791.3 1728.7,796.0 1729.3,792.5 1729.9,791.0 1730.5,788.4 1731.1,792.3 1731.7,789.2 1732.3,791.5 1732.9,790.0 1733.5,788.4 1734.1,794.1 1734.7,791.0 1735.3,792.7 1735.9,792.3 1736.5,789.7 1737.1,791.1 1737.7,790.3 1738.3,792.7 1738.9,791.8 1739.5,790.5 1740.1,794.2 1740.7,792.3 1741.3,792.4 1741.9,790.4 1742.5,792.6 1743.1,789.5 1743.7,793.0 1744.3,790.7 1744.9,792.8 1745.5,792.1 1746.1,793.0 1746.7,793.3 1747.3,792.6 1747.9,792.7 1748.5,790.2 1749.1,789.4 1749.7,794.9 1750.3,793.6 1750.9,790.0 1751.5,795.8 1752.1,791.2 1752.7,793.2 1753.3,793.0 1753.9,792.3 1754.5,793.1 1755.1,789.5 1755.7,791.8 1756.3,791.3 1756.9,791.8 1757.5,791.1 1758.1,790.4 1758.7,790.2 1759.3,792.9 1759.9,789.9 1760.5,791.9 1761.1,791.8 1761.7,791.0 1762.3,791.8 1762.9,792.0 1763.5,790.0 1764.1,791.4 1764.7,794.0 1765.3,788.8 1765.9,790.0 1766.5,789.0 1767.1,793.5 1767.7,787.6 1768.3,789.7 1768.9,791.1 1769.5,787.8 1770.1,788.8 1770.7,787.6 1771.3,786.3 1771.9,788.2 1772.5,788.9 1773.1,787.2 1773.7,787.9 1774.3,788.5 1774.9,789.0 1775.5,784.8 1776.1,787.6 1776.7,785.3 1777.3,782.9 1777.9,784.4 1778.5,786.3 1779.1,785.4 1779.7,782.8 1780.3,786.6 1780.9,784.3 1781.5,783.1 1782.1,781.9 1782.7,782.8 1783.3,781.0 1783.9,782.7 1784.5,780.9 1785.1,780.7 1785.7,778.7 1786.3,776.4 1786.9,778.5 1787.5,775.7 1788.1,776.2 1788.7,775.5 1789.3,773.7 1789.9,775.0 1790.5,771.2 1791.1,773.9 1791.7,770.4 1792.3,771.2 1792.9,770.5 1793.5,767.0 1794.1,766.0 1794.7,766.6 1795.3,764.7 1795.9,763.4 1796.5,760.4 1797.1,759.5 1797.7,760.2 1798.3,759.8 1798.9,756.9 1799.5,755.8 1800.1,755.6 1800.7,754.8 1801.3,754.0 1801.9,752.5 1802.5,750.9 1803.1,752.4 1803.7,750.6 1804.3,751.1 1804.9,748.8 1805.5,749.7 1806.1,748.8 1806.7,748.1 1807.3,748.7 1807.9,748.4 1808.5,746.9 1809.1,746.9 1809.7,745.4 1810.3,744.7 1810.9,743.9 1811.5,742.7 1812.1,741.8 1812.7,739.4 1813.3,738.7 1813.9,736.7 1814.5,734.1 1815.1,731.3 1815.7,728.2 1816.3,726.5 1816.9,723.2 1817.5,720.5 1818.1,716.7 1818.7,713.7 1819.3,710.2 1819.9,706.7 1820.5,703.3 1821.1,699.8 1821.7,696.8 1822.3,692.9 1822.9,690.7 1823.5,688.0 1824.1,685.7 1824.7,684.0 1825.3,684.2 1825.9,683.4 1826.5,683.5 1827.1,684.8 1827.7,686.4 1828.3,688.5 1828.9,690.9 1829.5,694.7 1830.1,698.2 1830.7,701.9 1831.3,706.5 1831.9,709.6 1832.5,714.0 1833.1,718.7 1833.7,723.1 1834.3,727.1 1834.9,731.1 1835.5,733.6 1836.1,738.4 1836.7,741.8 1837.3,745.3 1837.9,747.8 1838.5,751.4 1839.1,754.5 1839.7,757.6 1840.3,759.0 1840.9,759.8 1841.5,763.1 1842.1,765.6 1842.7,767.2 1843.3,770.4 1843.9,769.6 1844.5,770.1 1845.1,771.8 1845.7,774.7 1846.3,773.9 1846.9,774.7 1847.5,775.9 1848.1,779.7 1848.7,779.2 1849.3,779.2 1849.9,781.6 1850.5,782.1 1851.1,780.3 1851.7,783.6 1852.3,783.3 1852.9,780.3 1853.5,782.0 1854.1,784.6 1854.7,785.3 1855.3,784.5 1855.9,783.7 1856.5,785.9 1857.1,782.8 1857.7,786.8 1858.3,785.8 1858.9,786.2 1859.5,785.3 1860.1,787.8 1860.7,782.8 1861.3,785.3 1861.9,787.7 1862.5,785.7 1863.1,789.3 1863.7,787.7 1864.3,785.8 1864.9,789.0 1865.5,787.1 1866.1,788.2 1866.7,786.3 1867.3,786.3 1867.9,788.5 1868.5,787.4 1869.1,786.0 1869.7,785.7 1870.3,788.2 1870.9,790.0 1871.5,785.5 1872.1,788.0 1872.7,781.9 1873.3,784.3 1873.9,787.7 1874.5,789.1 1875.1,786.5 1875.7,787.3 1876.3,786.8 1876.9,788.1 1877.5,784.6 1878.1,787.5 1878.7,785.8 1879.3,786.0 1879.9,786.7 1880.5,786.5 1881.1,785.6 1881.7,786.6 1882.3,785.6 1882.9,789.9 1883.5,788.6 1884.1,786.8 1884.7,790.4 1885.3,789.9 1885.9,788.7 1886.5,787.0 1887.1,788.4 1887.7,789.0 1888.3,790.5 1888.9,787.8 1889.5,787.2 1890.1,792.1 1890.7,790.6 1891.3,788.8 1891.9,786.6 1892.5,789.1 1893.1,790.1 1893.7,789.5 1894.3,789.6 1894.9,788.2 1895.5,790.0 1896.1,787.0 1896.7,787.2 1897.3,787.1 1897.9,786.8 1898.5,791.3 1899.1,785.0 1899.7,788.3 1900.3,786.2 1900.9,785.8 1901.5,788.1 1902.1,785.3 1902.7,787.9 1903.3,792.2 1903.9,788.1 1904.5,789.2 1905.1,787.0 1905.7,789.5 1906.3,786.2 1906.9,789.3 1907.5,788.9 1908.1,793.1 1908.7,789.3 1909.3,789.0 1909.9,788.8 1910.5,787.8 1911.1,791.4 1911.7,792.7 1912.3,789.6 1912.9,791.6 1913.5,789.7 1914.1,791.1 1914.7,791.2 1915.3,787.8 1915.9,788.9 1916.5,791.9" fill="none" stroke="#000" stroke-width="5.0" stroke-linejoin="round"/>
<polyline points="140.5,1129.3 141.1,1128.4 141.7,1129.0 142.3,1125.7 142.9,1133.6 143.5,1132.8 144.1,1130.5 144.7,1132.8 145.3,1132.2 145.9,1131.0 146.5,1133.9 147.1,1131.8 147.7,1132.0 148.3,1131.4 148.9,1133.7 149.5,1132.9 150.1,1134.1 150.7,1132.1 151.3,1133.5 151.9,1131.7 152.5,1134.8 153.1,1133.6 153.7,1133.9 154.3,1134.0 154.9,1131.4 155.5,1134.6 156.1,1136.8 156.7,1130.2 157.3,1130.0 157.9,1130.4 158.5,1134.6 159.1,1133.4 159.7,1135.1 160.3,1134.6 160.9,1133.9 161.5,1134.2 162.1,1133.6 162.7,1135.7 163.3,1132.4 163.9,1133.9 164.5,1135.4 165.1,1138.5 165.7,1134.2 166.3,1134.0 166.9,1135.2 167.5,1138.2 168.1,1136.4 168.7,1139.4 169.3,1134.0 169.9,1139.6 170.5,1139.8 171.1,1135.7 171.7,1138.8 172.3,1141.0 172.9,1139.3 173.5,1141.2 174.1,1143.9 174.7,1140.6 175.3,1139.9 175.9,1139.4 176.5,1142.3 177.1,1141.2 177.7,1141.7 178.3,1142.2 178.9,1144.0 179.5,1141.3 180.1,1140.9 180.7,1139.7 181.3,1146.5 181.9,1144.9 182.5,1147.7 183.1,1145.4 183.7,1144.3 184.3,1146.7 184.9,1145.9 185.5,1144.0 186.1,1144.8 186.7,1149.5 187.3,1147.2 187.9,1147.4 188.5,1146.3 189.1,1145.7 189.7,1148.7 190.3,1147.2 190.9,1146.3 191.5,1147.6 192.1,1146.6 192.7,1148.9 193.3,1151.0 193.9,1148.0 194.5,1152.4 195.1,1149.3 195.7,1151.2 196.3,1150.0 196.9,1151.6 197.5,1152.6 198.1,1152.2 198.7,1152.2 199.3,1152.7 199.9,1152.8 200.5,1151.7 201.1,1154.1 201.7,1155.3 202.3,1156.2 202.9,1155.7 203.5,1158.8 204.1,1155.0 204.7,1153.6 205.3,1157.5 205.9,1152.3 206.5,1155.7 207.1,1152.2 207.7,1154.4 208.3,1150.2 208.9,1155.2 209.5,1153.2 210.1,1151.8 210.7,1156.3 211.3,1154.7 211.9,1153.5 212.5,1152.1 213.1,1153.4 213.7,1153.3 214.3,1154.9 214.9,1155.2 215.5,1152.8 216.1,1153.1 216.7,1153.2 217.3,1151.9 217.9,1153.4 218.5,1154.3 219.1,1155.8 219.7,1157.0 220.3,1153.3 220.9,1155.8 221.5,1154.1 222.1,1158.5 222.7,1154.8 223.3,1155.8 223.9,1153.3 224.5,1153.6 225.1,1155.4 225.7,1154.4 226.3,1155.8 226.9,1152.5 227.5,1156.4 228.1,1153.8 228.7,1158.4 229.3,1155.1 229.9,1157.5 230.5,1153.3 231.1,1156.6 231.7,1154.4 232.3,1155.1 232.9,1156.1 233.5,1155.5 234.1,1156.6 234.7,1157.4 235.3,1157.2 235.9,1156.0 236.5,1153.8 237.1,1154.7 237.7,1155.7 238.3,1152.4 238.9,1157.3 239.5,1155.6 240.1,1155.5 240.7,1157.6 241.3,1157.2 241.9,1156.4 242.5,1154.4 243.1,1156.8 243.7,1157.0 244.3,1155.0 244.9,1158.5 245.5,1157.8 246.1,1153.8 246.7,1157.7 247.3,1155.6 247.9,1160.0 248.5,1159.8 249.1,1156.8 249.7,1157.5 250.3,1159.5 250.9,1159.2 251.5,1162.4 252.1,1161.3 252.7,1159.7 253.3,1161.3 253.9,1157.1 254.5,1161.1 255.1,1162.1 255.7,1160.4 256.3,1159.6 256.9,1161.7 257.5,1164.1 258.1,1161.1 258.7,1158.8 259.3,1163.1 259.9,1157.4 260.5,1161.3 261.1,1159.4 261.7,1161.8 262.3,1158.8 262.9,1162.3 263.5,1160.4 264.1,1156.9 264.7,1156.4 265.3,1159.0 265.9,1161.6 266.5,1159.5 267.1,1159.4 267.7,1158.8 268.3,1160.3 268.9,1159.7 269.5,1159.5 270.1,1157.5 270.7,1161.0 271.3,1161.3 271.9,1157.0 272.5,1162.9 273.1,1160.3 273.7,1158.3 274.3,1156.0 274.9,1160.2 275.5,1160.0 276.1,1158.1 276.7,1156.1 277.3,1160.7 277.9,1157.9 278.5,1158.0 279.1,1163.2 279.7,1162.0 280.3,1160.0 280.9,1157.6 281.5,1159.1 282.1,1154.3 282.7,1157.9 283.3,1156.3 283.9,1155.2 284.5,1154.5 285.1,1157.5 285.7,1156.5 286.3,1156.3 286.9,1157.1 287.5,1154.2 288.1,1153.3 288.7,1152.2 289.3,1154.1 289.9,1155.5 290.5,1153.9 291.1,1154.9 291.7,1152.0 292.3,1152.9 292.9,1152.3 293.5,1151.4 294.1,1155.8 294.7,1154.2 295.3,1151.7 295.9,1151.6 296.5,1152.4 297.1,1150.3 297.7,1152.8 298.3,1150.1 298.9,1151.2 299.5,1150.1 300.1,1150.6 300.7,1149.2 301.3,1148.6 301.9,1149.1 302.5,1149.2 303.1,1149.4 303.7,1149.5 304.3,1151.0 304.9,1149.7 305.5,1148.0 306.1,1148.8 306.7,1146.6 307.3,1148.7 307.9,1147.1 308.5,1144.3 309.1,1146.2 309.7,1145.7 310.3,1141.1 310.9,1142.6 311.5,1142.1 312.1,1139.8 312.7,1139.9 313.3,1139.2 313.9,1139.6 314.5,1138.4 315.1,1139.3 315.7,1135.4 316.3,1135.4 316.9,1133.1 317.5,1131.6 318.1,1129.0 318.7,1126.7 319.3,1125.4 319.9,1124.0 320.5,1121.9 321.1,1118.8 321.7,1115.8 322.3,1111.9 322.9,1109.3 323.5,1105.2 324.1,1099.8 324.7,1094.9 325.3,1088.8 325.9,1083.6 326.5,1076.1 327.1,1068.0 327.7,1059.5 328.3,1049.9 328.9,1038.9 329.5,1026.9 330.1,1014.1 330.7,999.9 331.3,985.8 331.9,970.1 332.5,950.7 333.1,932.5 333.7,912.4 334.3,890.3 334.9,868.2 335.5,843.8 336.1,820.1 336.7,793.5 337.3,767.4 337.9,740.6 338.5,712.8 339.1,684.8 339.7,658.2 340.3,632.3 340.9,606.5 341.5,582.6 342.1,560.0 342.7,540.9 343.3,524.4 343.9,510.7 344.5,502.0 345.1,495.4 345.7,493.7 346.3,496.4 346.9,504.8 347.5,515.3 348.1,530.6 348.7,548.4 349.3,569.6 349.9,592.5 350.5,616.6 351.1,642.9 351.7,670.3 352.3,696.7 352.9,725.4 353.5,752.7 354.1,779.5 354.7,805.3 355.3,831.0 355.9,854.9 356.5,878.8 357.1,900.8 357.7,922.1 358.3,941.6 358.9,960.4 359.5,977.9 360.1,992.7 360.7,1008.4 361.3,1020.5 361.9,1032.7 362.5,1044.8 363.1,1055.1 363.7,1064.4 364.3,1071.8 364.9,1080.0 365.5,1086.8 366.1,1093.3 366.7,1098.1 367.3,1103.2 367.9,1106.8 368.5,1111.1 369.1,1114.4 369.7,1118.0 370.3,1120.1 370.9,1122.7 371.5,1125.7 372.1,1128.5 372.7,1129.6 373.3,1131.4 373.9,1132.5 374.5,1135.1 375.1,1136.1 375.7,1138.4 376.3,1138.4 376.9,1138.3 377.5,1139.7 378.1,1140.2 378.7,1140.8 379.3,1144.3 379.9,1144.6 380.5,1143.1 381.1,1147.1 381.7,1146.1 382.3,1145.2 382.9,1147.3 383.5,1147.3 384.1,1146.9 384.7,1145.8 385.3,1148.6 385.9,1149.3 386.5,1145.9 387.1,1150.3 387.7,1150.6 388.3,1149.5 388.9,1150.5 389.5,1150.3 390.1,1149.8 390.7,1150.7 391.3,1153.4 391.9,1149.8 392.5,1152.5 393.1,1152.8 393.7,1151.9 394.3,1152.7 394.9,1151.8 395.5,1153.0 396.1,1154.7 396.7,1155.7 397.3,1154.3 397.9,1160.6 398.5,1155.7 399.1,1157.2 399.7,1157.0 400.3,1157.2 400.9,1160.1 401.5,1157.7 402.1,1160.8 402.7,1160.8 403.3,1157.7 403.9,1161.1 404.5,1158.8 405.1,1164.2 405.7,1159.6 406.3,1158.9 406.9,1157.6 407.5,1158.7 408.1,1159.9 408.7,1159.4 409.3,1159.2 409.9,1160.1 410.5,1161.0 411.1,1163.6 411.7,1158.8 412.3,1160.6 412.9,1160.0 413.5,1159.2 414.1,1159.6 414.7,1160.2 415.3,1162.8 415.9,1161.4 416.5,1160.9 417.1,1162.7 417.7,1162.1 418.3,1161.3 418.9,1162.2 419.5,1160.1 420.1,1162.2 420.7,1161.6 421.3,1159.9 421.9,1158.3 422.5,1161.8 423.1,1158.9 423.7,1162.4 424.3,1156.1 424.9,1157.2 425.5,1154.3 426.1,1153.9 426.7,1153.4 427.3,1150.0 427.9,1149.5 428.5,1148.5 429.1,1147.3 429.7,1146.8 430.3,1146.4 430.9,1145.6 431.5,1144.8 432.1,1144.3 432.7,1143.9 433.3,1145.0 433.9,1146.1 434.5,1148.6 435.1,1148.5 435.7,1148.5 436.3,1151.7 436.9,1150.7 437.5,1151.3 438.1,1152.1 438.7,1152.8 439.3,1148.4 439.9,1148.9 440.5,1148.8 441.1,1146.1 441.7,1143.1 442.3,1141.0 442.9,1140.3 443.5,1136.6 444.1,1136.2 444.7,1136.0 445.3,1135.7 445.9,1138.2 446.5,1140.0 447.1,1142.8 447.7,1145.5 448.3,1151.0 448.9,1152.5 449.5,1155.0 450.1,1156.5 450.7,1162.8 451.3,1162.9 451.9,1162.8 452.5,1162.9 453.1,1162.3 453.7,1165.9 454.3,1166.4 454.9,1163.9 455.5,1168.5 456.1,1168.1 456.7,1165.3 457.3,1166.1 457.9,1166.5 458.5,1167.6 459.1,1167.1 459.7,1164.7 460.3,1170.0 460.9,1168.1 461.5,1169.8 462.1,1169.8 462.7,1167.4 463.3,1168.4 463.9,1169.1 464.5,1169.2 465.1,1167.7 465.7,1167.0 466.3,1168.2 466.9,1166.8 467.5,1167.3 468.1,1164.9 468.7,1168.6 469.3,1166.7 469.9,1167.6 470.5,1168.5 471.1,1169.2 471.7,1172.0 472.3,1169.1 472.9,1166.3 473.5,1169.0 474.1,1167.8 474.7,1169.5 475.3,1167.6 475.9,1167.6 476.5,1167.9 477.1,1167.7 477.7,1165.6 478.3,1167.5 478.9,1168.6 479.5,1170.7 480.1,1168.0 480.7,1167.8 481.3,1169.4 481.9,1169.2 482.5,1171.0 483.1,1169.1 483.7,1168.0 484.3,1170.3 484.9,1170.6 485.5,1167.0 486.1,1168.0 486.7,1164.8 487.3,1167.0 487.9,1166.1 488.5,1167.2 489.1,1166.8 489.7,1167.3 490.3,1167.5 490.9,1168.6 491.5,1168.2 492.1,1166.9 492.7,1165.7 493.3,1170.3 493.9,1170.8 494.5,1167.6 495.1,1169.6 495.7,1166.1 496.3,1166.2 496.9,1168.6 497.5,1171.8 498.1,1167.5 498.7,1168.0 499.3,1172.4 499.9,1166.3 500.5,1170.8 501.1,1170.6 501.7,1169.4 502.3,1170.0 502.9,1174.3 503.5,1167.7 504.1,1169.1 504.7,1169.2 505.3,1168.4 505.9,1167.2 506.5,1172.4 507.1,1170.0 507.7,1166.5 508.3,1168.4 508.9,1170.4 509.5,1170.5 510.1,1167.4 510.7,1169.9 511.3,1170.7 511.9,1171.0 512.5,1171.2 513.1,1167.4 513.7,1174.0 514.3,1171.3 514.9,1174.2 515.5,1176.2 516.1,1171.0 516.7,1169.2 517.3,1173.0 517.9,1171.2 518.5,1170.8 519.1,1169.8 519.7,1174.6 520.3,1170.9 520.9,1169.2 521.5,1170.9 522.1,1169.7 522.7,1172.0 523.3,1171.0 523.9,1169.9 524.5,1172.9 525.1,1170.7 525.7,1173.2 526.3,1174.1 526.9,1171.3 527.5,1170.8 528.1,1172.3 528.7,1173.6 529.3,1172.0 529.9,1172.3 530.5,1172.0 531.1,1172.6 531.7,1173.2 532.3,1170.9 532.9,1171.3 533.5,1172.2 534.1,1170.9 534.7,1172.4 535.3,1173.1 535.9,1172.1 536.5,1171.0 537.1,1170.7 537.7,1175.2 538.3,1173.6 538.9,1170.0 539.5,1170.5 540.1,1175.2 540.7,1174.5 541.3,1171.9 541.9,1173.7 542.5,1168.9 543.1,1171.4 543.7,1172.5 544.3,1167.8 544.9,1169.5 545.5,1172.2 546.1,1172.6 546.7,1169.5 547.3,1170.9 547.9,1173.1 548.5,1169.5 549.1,1167.8 549.7,1170.0 550.3,1169.4 550.9,1172.4 551.5,1170.4 552.1,1168.8 552.7,1174.5 553.3,1169.5 553.9,1171.3 554.5,1171.8 555.1,1172.2 555.7,1171.2 556.3,1172.2 556.9,1171.2 557.5,1169.0 558.1,1171.3 558.7,1171.6 559.3,1171.8 559.9,1172.5 560.5,1171.3 561.1,1174.9 561.7,1175.5 562.3,1168.9 562.9,1172.9 563.5,1171.6 564.1,1168.3 564.7,1173.6 565.3,1171.7 565.9,1172.1 566.5,1171.5 567.1,1174.5 567.7,1174.7 568.3,1172.9 568.9,1173.5 569.5,1172.0 570.1,1172.4 570.7,1170.8 571.3,1172.1 571.9,1170.7 572.5,1172.6 573.1,1173.4 573.7,1172.5 574.3,1174.0 574.9,1176.7 575.5,1168.2 576.1,1172.0 576.7,1171.0 577.3,1171.3 577.9,1169.7 578.5,1172.2 579.1,1171.7 579.7,1171.1 580.3,1171.8 580.9,1171.2 581.5,1168.2 582.1,1174.2 582.7,1171.8 583.3,1170.6 583.9,1172.8 584.5,1171.1 585.1,1168.4 585.7,1173.7 586.3,1169.1 586.9,1171.6 587.5,1172.1 588.1,1174.2 588.7,1173.8 589.3,1171.9 589.9,1170.2 590.5,1170.7 591.1,1173.3 591.7,1174.5 592.3,1172.3 592.9,1170.2 593.5,1173.2 594.1,1170.8 594.7,1170.8 595.3,1171.1 595.9,1172.8 596.5,1172.3 597.1,1173.7 597.7,1174.3 598.3,1172.9 598.9,1167.9 599.5,1169.1 600.1,1172.3 600.7,1171.9 601.3,1175.7 601.9,1171.8 602.5,1171.4 603.1,1173.2 603.7,1173.3 604.3,1170.9 604.9,1172.1 605.5,1169.2 606.1,1169.4 606.7,1173.1 607.3,1168.4 607.9,1172.4 608.5,1171.8 609.1,1171.9 609.7,1171.9 610.3,1171.0 610.9,1166.0 611.5,1167.4 612.1,1167.1 612.7,1168.3 613.3,1163.3 613.9,1161.7 614.5,1159.3 615.1,1157.7 615.7,1150.1 616.3,1145.4 616.9,1142.0 617.5,1134.7 618.1,1131.2 618.7,1126.6 619.3,1123.1 619.9,1122.4 620.5,1122.9 621.1,1125.9 621.7,1130.0 622.3,1135.6 622.9,1139.9 623.5,1145.2 624.1,1149.4 624.7,1154.5 625.3,1159.7 625.9,1158.6 626.5,1165.0 627.1,1165.0 627.7,1167.5 628.3,1169.0 628.9,1170.7 629.5,1170.3 630.1,1169.7 630.7,1171.2 631.3,1171.0 631.9,1170.9 632.5,1171.8 633.1,1173.2 633.7,1172.1 634.3,1172.3 634.9,1169.9 635.5,1172.1 636.1,1169.2 636.7,1173.9 637.3,1171.1 637.9,1175.1 638.5,1178.2 639.1,1172.3 639.7,1175.4 640.3,1173.9 640.9,1172.2 641.5,1171.7 642.1,1174.2 642.7,1175.6 643.3,1173.7 643.9,1170.4 644.5,1171.1 645.1,1172.5 645.7,1175.2 646.3,1173.3 646.9,1173.3 647.5,1174.8 648.1,1172.2 648.7,1172.4 649.3,1172.2 649.9,1169.4 650.5,1173.5 651.1,1173.4 651.7,1174.5 652.3,1170.8 652.9,1171.7 653.5,1174.9 654.1,1174.0 654.7,1176.1 655.3,1172.3 655.9,1174.4 656.5,1173.0 657.1,1175.0 657.7,1173.7 658.3,1175.7 658.9,1176.8 659.5,1176.1 660.1,1171.8 660.7,1176.7 661.3,1175.9 661.9,1173.3 662.5,1173.6 663.1,1175.2 663.7,1176.2 664.3,1174.3 664.9,1172.2 665.5,1175.5 666.1,1175.3 666.7,1179.2 667.3,1172.5 667.9,1179.2 668.5,1177.7 669.1,1175.0 669.7,1177.2 670.3,1174.3 670.9,1175.7 671.5,1172.5 672.1,1173.8 672.7,1171.7 673.3,1170.5 673.9,1172.7 674.5,1171.9 675.1,1173.9 675.7,1175.0 676.3,1172.4 676.9,1172.7 677.5,1172.8 678.1,1169.5 678.7,1172.8 679.3,1172.3 679.9,1172.2 680.5,1170.3 681.1,1168.7 681.7,1171.7 682.3,1172.7 682.9,1174.5 683.5,1174.2 684.1,1174.7 684.7,1172.8 685.3,1174.2 685.9,1171.8 686.5,1173.3 687.1,1173.8 687.7,1176.9 688.3,1172.6 688.9,1169.9 689.5,1174.6 690.1,1170.8 690.7,1172.1 691.3,1171.7 691.9,1170.6 692.5,1174.5 693.1,1173.2 693.7,1171.0 694.3,1172.2 694.9,1171.3 695.5,1173.1 696.1,1171.3 696.7,1170.6 697.3,1170.8 697.9,1171.1 698.5,1172.3 699.1,1170.2 699.7,1171.6 700.3,1172.6 700.9,1175.9 701.5,1173.4 702.1,1166.6 702.7,1171.1 703.3,1171.4 703.9,1172.8 704.5,1175.2 705.1,1173.9 705.7,1168.8 706.3,1173.6 706.9,1173.5 707.5,1174.4 708.1,1176.3 708.7,1172.3 709.3,1176.5 709.9,1171.9 710.5,1175.2 711.1,1176.0 711.7,1179.6 712.3,1174.5 712.9,1172.9 713.5,1177.3 714.1,1175.0 714.7,1179.0 715.3,1175.0 715.9,1174.7 716.5,1178.3 717.1,1176.2 717.7,1177.7 718.3,1173.2 718.9,1178.4 719.5,1174.2 720.1,1176.4 720.7,1172.9 721.3,1171.6 721.9,1173.5 722.5,1173.9 723.1,1176.1 723.7,1173.6 724.3,1173.9 724.9,1173.5 725.5,1177.6 726.1,1170.5 726.7,1173.9 727.3,1171.3 727.9,1171.9 728.5,1170.4 729.1,1173.4 729.7,1169.1 730.3,1169.0 730.9,1171.0 731.5,1169.3 732.1,1172.6 732.7,1173.1 733.3,1170.2 733.9,1172.9 734.5,1170.5 735.1,1171.6 735.7,1171.7 736.3,1175.1 736.9,1171.8 737.5,1170.3 738.1,1170.3 738.7,1174.1 739.3,1169.1 739.9,1171.2 740.5,1171.4 741.1,1167.9 741.7,1171.4 742.3,1174.0 742.9,1172.7 743.5,1170.8 744.1,1173.7 744.7,1173.4 745.3,1176.0 745.9,1171.3 746.5,1171.9 747.1,1172.6 747.7,1172.3 748.3,1172.6 748.9,1172.3 749.5,1171.2 750.1,1169.5 750.7,1171.2 751.3,1169.6 751.9,1170.1 752.5,1170.8 753.1,1172.5 753.7,1173.0 754.3,1169.6 754.9,1171.8 755.5,1172.5 756.1,1170.9 756.7,1168.1 757.3,1167.1 757.9,1171.9 758.5,1171.9 759.1,1170.6 759.7,1168.2 760.3,1172.1 760.9,1171.4 761.5,1168.9 762.1,1168.3 762.7,1165.1 763.3,1168.9 763.9,1164.6 764.5,1167.6 765.1,1167.0 765.7,1165.4 766.3,1166.8 766.9,1163.2 767.5,1163.7 768.1,1163.1 768.7,1161.5 769.3,1159.7 769.9,1161.0 770.5,1159.1 771.1,1157.5 771.7,1156.8 772.3,1156.6 772.9,1158.8 773.5,1155.8 774.1,1155.3 774.7,1154.4 775.3,1154.4 775.9,1153.9 776.5,1157.1 777.1,1157.4 777.7,1156.8 778.3,1157.0 778.9,1159.3 779.5,1159.8 780.1,1159.5 780.7,1162.6 781.3,1163.2 781.9,1163.6 782.5,1165.5 783.1,1164.0 783.7,1167.5 784.3,1164.5 784.9,1167.1 785.5,1167.6 786.1,1166.4 786.7,1167.5 787.3,1165.0 787.9,1164.6 788.5,1166.4 789.1,1165.3 789.7,1167.0 790.3,1165.7 790.9,1166.0 791.5,1165.0 792.1,1164.1 792.7,1163.1 793.3,1161.6 793.9,1160.4 794.5,1162.7 795.1,1156.5 795.7,1157.2 796.3,1157.3 796.9,1155.0 797.5,1154.4 798.1,1151.7 798.7,1148.0 799.3,1147.0 799.9,1144.1 800.5,1144.1 801.1,1142.3 801.7,1138.8 802.3,1137.3 802.9,1134.7 803.5,1132.2 804.1,1131.0 804.7,1128.9 805.3,1128.0 805.9,1127.4 806.5,1126.9 807.1,1126.8 807.7,1126.2 808.3,1126.8 808.9,1127.6 809.5,1128.7 810.1,1128.4 810.7,1130.7 811.3,1133.0 811.9,1133.6 812.5,1136.0 813.1,1137.9 813.7,1137.6 814.3,1140.2 814.9,1141.9 815.5,1142.9 816.1,1142.6 816.7,1145.1 817.3,1144.9 817.9,1146.7 818.5,1146.6 819.1,1145.8 819.7,1146.3 820.3,1145.1 820.9,1144.4 821.5,1142.8 822.1,1142.7 822.7,1142.1 823.3,1139.8 823.9,1137.7 824.5,1135.0 825.1,1132.5 825.7,1130.2 826.3,1126.1 826.9,1124.4 827.5,1119.8 828.1,1116.9 828.7,1112.3 829.3,1107.2 829.9,1103.0 830.5,1097.9 831.1,1092.9 831.7,1087.7 832.3,1081.6 832.9,1076.0 833.5,1070.4 834.1,1064.1 834.7,1058.8 835.3,1053.3 835.9,1047.7 836.5,1042.2 837.1,1036.6 837.7,1032.2 838.3,1026.4 838.9,1023.1 839.5,1019.7 840.1,1017.3 840.7,1015.1 841.3,1013.7 841.9,1012.7 842.5,1013.3 843.1,1013.3 843.7,1015.5 844.3,1016.9 844.9,1021.7 845.5,1025.3 846.1,1028.4 846.7,1032.9 847.3,1037.2 847.9,1042.6 848.5,1048.6 849.1,1053.9 849.7,1058.8 850.3,1064.7 850.9,1069.9 851.5,1075.7 852.1,1080.8 852.7,1085.3 853.3,1090.0 853.9,1094.3 854.5,1097.5 855.1,1102.2 855.7,1105.5 856.3,1109.0 856.9,1110.5 857.5,1114.1 858.1,1115.5 858.7,1117.6 859.3,1119.3 859.9,1119.1 860.5,1119.8 861.1,1121.2 861.7,1120.2 862.3,1120.1 862.9,1120.3 863.5,1119.2 864.1,1118.7 864.7,1117.4 865.3,1116.1 865.9,1115.4 866.5,1114.7 867.1,1112.6 867.7,1112.3 868.3,1111.4 868.9,1110.5 869.5,1110.5 870.1,1110.1 870.7,1110.8 871.3,1112.2 871.9,1113.5 872.5,1115.8 873.1,1116.6 873.7,1119.3 874.3,1121.6 874.9,1124.4 875.5,1127.7 876.1,1129.3 876.7,1132.9 877.3,1134.8 877.9,1137.6 878.5,1141.1 879.1,1142.5 879.7,1145.7 880.3,1147.4 880.9,1149.2 881.5,1150.9 882.1,1151.2 882.7,1153.9 883.3,1156.5 883.9,1158.0 884.5,1157.2 885.1,1161.6 885.7,1162.2 886.3,1160.6 886.9,1161.9 887.5,1164.9 888.1,1162.4 888.7,1164.5 889.3,1166.2 889.9,1166.6 890.5,1167.2 891.1,1168.3 891.7,1166.9 892.3,1167.6 892.9,1171.9 893.5,1166.7 894.1,1168.4 894.7,1169.4 895.3,1168.3 895.9,1171.4 896.5,1169.7 897.1,1170.8 897.7,1165.4 898.3,1171.6 898.9,1171.6 899.5,1168.6 900.1,1172.1 900.7,1170.5 901.3,1171.7 901.9,1173.3 902.5,1170.6 903.1,1169.0 903.7,1170.8 904.3,1168.9 904.9,1170.0 905.5,1170.2 906.1,1170.5 906.7,1173.9 907.3,1173.6 907.9,1170.9 908.5,1174.5 909.1,1169.9 909.7,1171.8 910.3,1172.8 910.9,1175.2 911.5,1174.5 912.1,1174.1 912.7,1175.6 913.3,1174.7 913.9,1175.8 914.5,1172.2 915.1,1170.7 915.7,1172.9 916.3,1175.0 916.9,1174.1 917.5,1175.2 918.1,1174.9 918.7,1174.5 919.3,1175.0 919.9,1172.4 920.5,1175.5 921.1,1171.8 921.7,1173.3 922.3,1170.9 922.9,1174.1 923.5,1170.5 924.1,1175.5 924.7,1170.6 925.3,1173.3 925.9,1172.5 926.5,1171.1 927.1,1174.7 927.7,1171.7 928.3,1174.9 928.9,1170.5 929.5,1170.9 930.1,1168.9 930.7,1173.3 931.3,1174.1 931.9,1172.9 932.5,1172.4 933.1,1171.2 933.7,1177.0 934.3,1174.3 934.9,1170.0 935.5,1172.8 936.1,1168.9 936.7,1176.3 937.3,1177.1 937.9,1176.3 938.5,1173.8 939.1,1172.9 939.7,1171.6 940.3,1175.0 940.9,1172.9 941.5,1173.6 942.1,1173.2 942.7,1173.8 943.3,1176.0 943.9,1177.4 944.5,1174.8 945.1,1174.6 945.7,1172.7 946.3,1172.5 946.9,1172.9 947.5,1176.3 948.1,1175.3 948.7,1176.5 949.3,1175.6 949.9,1174.2 950.5,1172.7 951.1,1174.3 951.7,1172.4 952.3,1178.4 952.9,1175.4 953.5,1174.2 954.1,1178.4 954.7,1174.2 955.3,1175.9 955.9,1174.7 956.5,1175.6 957.1,1174.4 957.7,1175.9 958.3,1177.6 958.9,1173.0 959.5,1171.4 960.1,1177.7 960.7,1175.7 961.3,1177.1 961.9,1175.1 962.5,1178.4 963.1,1179.0 963.7,1173.8 964.3,1177.2 964.9,1175.0 965.5,1173.4 966.1,1175.8 966.7,1177.4 967.3,1174.0 967.9,1174.2 968.5,1178.7 969.1,1176.6 969.7,1177.2 970.3,1174.5 970.9,1175.2 971.5,1176.4 972.1,1176.3 972.7,1175.9 973.3,1178.0 973.9,1175.1 974.5,1171.8 975.1,1172.3 975.7,1173.0 976.3,1174.4 976.9,1170.6 977.5,1170.5 978.1,1170.5 978.7,1169.0 979.3,1168.6 979.9,1169.5 980.5,1171.6 981.1,1171.2 981.7,1170.5 982.3,1172.2 982.9,1170.1 983.5,1174.3 984.1,1174.5 984.7,1174.3 985.3,1171.4 985.9,1178.0 986.5,1169.9 987.1,1173.4 987.7,1173.7 988.3,1176.7 988.9,1172.9 989.5,1176.1 990.1,1175.5 990.7,1175.3 991.3,1177.3 991.9,1178.4 992.5,1176.7 993.1,1175.5 993.7,1172.1 994.3,1178.8 994.9,1175.7 995.5,1173.1 996.1,1176.7 996.7,1179.1 997.3,1176.4 997.9,1174.6 998.5,1180.8 999.1,1178.0 999.7,1177.5 1000.3,1178.8 1000.9,1173.1 1001.5,1176.8 1002.1,1176.7 1002.7,1181.0 1003.3,1175.9 1003.9,1175.9 1004.5,1174.4 1005.1,1175.3 1005.7,1176.4 1006.3,1177.2 1006.9,1176.3 1007.5,1180.3 1008.1,1177.5 1008.7,1177.8 1009.3,1179.1 1009.9,1177.8 1010.5,1175.8 1011.1,1174.0 1011.7,1177.4 1012.3,1175.4 1012.9,1179.4 1013.5,1175.7 1014.1,1173.3 1014.7,1177.5 1015.3,1179.5 1015.9,1177.3 1016.5,1178.2 1017.1,1178.3 1017.7,1181.2 1018.3,1178.8 1018.9,1178.2 1019.5,1177.2 1020.1,1175.4 1020.7,1180.9 1021.3,1180.4 1021.9,1176.6 1022.5,1179.4 1023.1,1178.8 1023.7,1177.5 1024.3,1177.6 1024.9,1179.5 1025.5,1175.9 1026.1,1177.2 1026.7,1178.0 1027.3,1178.1 1027.9,1177.8 1028.5,1178.6 1029.1,1179.2 1029.7,1176.7 1030.3,1178.5 1030.9,1177.5 1031.5,1181.2 1032.1,1176.1 1032.7,1178.2 1033.3,1179.9 1033.9,1178.2 1034.5,1178.2 1035.1,1177.8 1035.7,1179.4 1036.3,1176.7 1036.9,1178.7 1037.5,1178.6 1038.1,1176.2 1038.7,1179.3 1039.3,1178.0 1039.9,1179.3 1040.5,1180.3 1041.1,1179.4 1041.7,1176.6 1042.3,1179.2 1042.9,1175.7 1043.5,1177.1 1044.1,1181.4 1044.7,1178.3 1045.3,1181.0 1045.9,1177.8 1046.5,1178.0 1047.1,1175.9 1047.7,1179.5 1048.3,1177.3 1048.9,1178.7 1049.5,1178.3 1050.1,1178.4 1050.7,1178.0 1051.3,1177.3 1051.9,1177.3 1052.5,1176.1 1053.1,1173.6 1053.7,1178.2 1054.3,1181.1 1054.9,1179.4 1055.5,1181.7 1056.1,1178.5 1056.7,1176.0 1057.3,1176.1 1057.9,1179.3 1058.5,1178.7 1059.1,1177.9 1059.7,1179.7 1060.3,1176.9 1060.9,1179.6 1061.5,1178.2 1062.1,1179.1 1062.7,1181.0 1063.3,1178.7 1063.9,1181.5 1064.5,1181.4 1065.1,1177.7 1065.7,1183.2 1066.3,1176.9 1066.9,1178.9 1067.5,1180.4 1068.1,1175.0 1068.7,1180.9 1069.3,1181.1 1069.9,1178.8 1070.5,1179.5 1071.1,1179.4 1071.7,1178.6 1072.3,1180.8 1072.9,1178.2 1073.5,1178.7 1074.1,1179.3 1074.7,1180.0 1075.3,1180.3 1075.9,1175.6 1076.5,1174.4 1077.1,1177.4 1077.7,1177.3 1078.3,1175.2 1078.9,1177.2 1079.5,1177.3 1080.1,1176.5 1080.7,1178.2 1081.3,1173.3 1081.9,1174.6 1082.5,1177.3 1083.1,1174.8 1083.7,1171.4 1084.3,1173.0 1084.9,1174.1 1085.5,1175.0 1086.1,1172.3 1086.7,1172.6 1087.3,1168.6 1087.9,1169.5 1088.5,1171.2 1089.1,1167.6 1089.7,1168.6 1090.3,1165.8 1090.9,1170.5 1091.5,1168.1 1092.1,1169.2 1092.7,1166.3 1093.3,1166.9 1093.9,1171.8 1094.5,1169.1 1095.1,1169.3 1095.7,1171.5 1096.3,1172.2 1096.9,1169.0 1097.5,1171.1 1098.1,1173.4 1098.7,1174.0 1099.3,1175.1 1099.9,1174.5 1100.5,1175.3 1101.1,1176.6 1101.7,1175.6 1102.3,1175.8 1102.9,1176.6 1103.5,1177.9 1104.1,1178.0 1104.7,1177.7 1105.3,1178.3 1105.9,1178.9 1106.5,1179.7 1107.1,1180.0 1107.7,1177.3 1108.3,1181.4 1108.9,1177.0 1109.5,1180.9 1110.1,1178.8 1110.7,1181.1 1111.3,1182.0 1111.9,1176.9 1112.5,1181.3 1113.1,1180.8 1113.7,1179.5 1114.3,1181.0 1114.9,1179.4 1115.5,1180.5 1116.1,1178.4 1116.7,1181.6 1117.3,1181.3 1117.9,1181.5 1118.5,1179.0 1119.1,1183.4 1119.7,1183.6 1120.3,1180.0 1120.9,1179.5 1121.5,1179.5 1122.1,1181.5 1122.7,1182.2 1123.3,1179.1 1123.9,1177.0 1124.5,1181.4 1125.1,1180.6 1125.7,1181.1 1126.3,1181.8 1126.9,1179.0 1127.5,1181.2 1128.1,1180.6 1128.7,1181.8 1129.3,1183.4 1129.9,1181.2 1130.5,1179.7 1131.1,1183.4 1131.7,1182.4 1132.3,1180.8 1132.9,1177.9 1133.5,1179.5 1134.1,1181.2 1134.7,1181.9 1135.3,1179.9 1135.9,1181.6 1136.5,1179.7 1137.1,1180.0 1137.7,1181.6 1138.3,1180.2 1138.9,1180.9 1139.5,1182.2 1140.1,1182.7 1140.7,1179.7 1141.3,1180.3 1141.9,1178.4 1142.5,1178.5 1143.1,1181.3 1143.7,1179.9 1144.3,1177.6 1144.9,1181.7 1145.5,1179.3 1146.1,1180.3 1146.7,1181.5 1147.3,1181.5 1147.9,1180.7 1148.5,1177.4 1149.1,1181.8 1149.7,1179.8 1150.3,1178.4 1150.9,1177.1 1151.5,1183.1 1152.1,1181.1 1152.7,1181.1 1153.3,1181.9 1153.9,1180.7 1154.5,1178.3 1155.1,1182.0 1155.7,1182.6 1156.3,1181.7 1156.9,1183.4 1157.5,1184.0 1158.1,1179.3 1158.7,1179.9 1159.3,1182.1 1159.9,1180.8 1160.5,1180.8 1161.1,1181.9 1161.7,1181.5 1162.3,1179.3 1162.9,1180.0 1163.5,1178.3 1164.1,1178.6 1164.7,1176.5 1165.3,1174.1 1165.9,1175.0 1166.5,1173.0 1167.1,1172.7 1167.7,1170.4 1168.3,1164.7 1168.9,1161.0 1169.5,1155.3 1170.1,1150.3 1170.7,1146.2 1171.3,1142.1 1171.9,1139.2 1172.5,1137.4 1173.1,1137.9 1173.7,1138.6 1174.3,1140.8 1174.9,1145.6 1175.5,1149.6 1176.1,1154.9 1176.7,1160.4 1177.3,1162.7 1177.9,1167.0 1178.5,1170.9 1179.1,1171.3 1179.7,1174.9 1180.3,1176.9 1180.9,1178.5 1181.5,1179.8 1182.1,1179.6 1182.7,1179.8 1183.3,1177.3 1183.9,1175.5 1184.5,1178.5 1185.1,1182.5 1185.7,1180.6 1186.3,1176.9 1186.9,1180.0 1187.5,1181.3 1188.1,1177.7 1188.7,1181.6 1189.3,1178.8 1189.9,1182.3 1190.5,1180.5 1191.1,1185.3 1191.7,1178.1 1192.3,1180.5 1192.9,1177.5 1193.5,1181.4 1194.1,1179.6 1194.7,1180.6 1195.3,1179.1 1195.9,1176.9 1196.5,1177.5 1197.1,1176.4 1197.7,1176.5 1198.3,1178.2 1198.9,1179.4 1199.5,1178.9 1200.1,1178.2 1200.7,1176.3 1201.3,1177.7 1201.9,1175.5 1202.5,1176.9 1203.1,1177.6 1203.7,1175.8 1204.3,1175.2 1204.9,1175.0 1205.5,1176.3 1206.1,1174.7 1206.7,1172.8 1207.3,1174.0 1207.9,1172.8 1208.5,1176.1 1209.1,1173.6 1209.7,1171.2 1210.3,1173.2 1210.9,1173.3 1211.5,1172.4 1212.1,1170.8 1212.7,1170.9 1213.3,1170.4 1213.9,1170.7 1214.5,1169.1 1215.1,1170.7 1215.7,1166.7 1216.3,1167.9 1216.9,1165.2 1217.5,1162.1 1218.1,1161.7 1218.7,1159.9 1219.3,1158.8 1219.9,1160.5 1220.5,1157.2 1221.1,1156.9 1221.7,1154.0 1222.3,1153.0 1222.9,1150.3 1223.5,1149.7 1224.1,1146.8 1224.7,1144.3 1225.3,1141.9 1225.9,1140.1 1226.5,1136.2 1227.1,1133.0 1227.7,1128.5 1228.3,1124.8 1228.9,1121.0 1229.5,1115.5 1230.1,1112.1 1230.7,1106.4 1231.3,1100.7 1231.9,1094.7 1232.5,1088.4 1233.1,1081.7 1233.7,1075.6 1234.3,1068.0 1234.9,1060.6 1235.5,1052.1 1236.1,1043.7 1236.7,1036.4 1237.3,1026.8 1237.9,1018.6 1238.5,1010.7 1239.1,1002.5 1239.7,993.3 1240.3,986.0 1240.9,978.9 1241.5,972.2 1242.1,966.1 1242.7,961.9 1243.3,957.6 1243.9,955.1 1244.5,952.8 1245.1,953.8 1245.7,954.2 1246.3,958.0 1246.9,961.7 1247.5,966.1 1248.1,972.2 1248.7,978.8 1249.3,986.0 1249.9,994.0 1250.5,1001.9 1251.1,1010.2 1251.7,1018.5 1252.3,1028.2 1252.9,1036.0 1253.5,1044.2 1254.1,1052.7 1254.7,1060.1 1255.3,1067.8 1255.9,1075.6 1256.5,1082.7 1257.1,1089.3 1257.7,1094.6 1258.3,1101.3 1258.9,1106.9 1259.5,1112.4 1260.1,1116.7 1260.7,1121.3 1261.3,1126.0 1261.9,1129.6 1262.5,1133.2 1263.1,1137.1 1263.7,1140.7 1264.3,1143.3 1264.9,1146.7 1265.5,1147.9 1266.1,1151.4 1266.7,1153.1 1267.3,1154.3 1267.9,1156.5 1268.5,1157.7 1269.1,1159.7 1269.7,1160.5 1270.3,1163.8 1270.9,1163.2 1271.5,1163.0 1272.1,1165.3 1272.7,1166.8 1273.3,1166.8 1273.9,1168.9 1274.5,1167.4 1275.1,1168.1 1275.7,1171.9 1276.3,1170.5 1276.9,1171.8 1277.5,1172.3 1278.1,1173.0 1278.7,1172.8 1279.3,1173.0 1279.9,1175.3 1280.5,1173.7 1281.1,1175.0 1281.7,1176.3 1282.3,1175.2 1282.9,1174.0 1283.5,1177.2 1284.1,1178.4 1284.7,1177.5 1285.3,1175.0 1285.9,1178.6 1286.5,1180.7 1287.1,1175.7 1287.7,1174.0 1288.3,1177.8 1288.9,1178.3 1289.5,1179.4 1290.1,1179.5 1290.7,1178.4 1291.3,1179.0 1291.9,1178.7 1292.5,1178.3 1293.1,1178.0 1293.7,1177.8 1294.3,1179.1 1294.9,1178.6 1295.5,1177.3 1296.1,1179.6 1296.7,1176.8 1297.3,1177.5 1297.9,1178.1 1298.5,1174.9 1299.1,1177.4 1299.7,1179.4 1300.3,1179.4 1300.9,1176.3 1301.5,1176.9 1302.1,1176.6 1302.7,1178.1 1303.3,1178.5 1303.9,1176.2 1304.5,1179.4 1305.1,1179.2 1305.7,1179.1 1306.3,1178.3 1306.9,1179.3 1307.5,1176.8 1308.1,1180.2 1308.7,1180.3 1309.3,1179.9 1309.9,1178.2 1310.5,1182.3 1311.1,1182.1 1311.7,1177.2 1312.3,1181.0 1312.9,1180.5 1313.5,1176.1 1314.1,1181.1 1314.7,1181.3 1315.3,1181.3 1315.9,1180.4 1316.5,1179.0 1317.1,1179.1 1317.7,1180.7 1318.3,1181.8 1318.9,1179.0 1319.5,1179.3 1320.1,1180.8 1320.7,1176.1 1321.3,1180.4 1321.9,1179.3 1322.5,1176.1 1323.1,1181.0 1323.7,1178.3 1324.3,1181.2 1324.9,1182.3 1325.5,1178.1 1326.1,1178.4 1326.7,1180.5 1327.3,1177.8 1327.9,1182.1 1328.5,1181.4 1329.1,1182.9 1329.7,1178.4 1330.3,1182.0 1330.9,1182.6 1331.5,1179.1 1332.1,1183.7 1332.7,1180.1 1333.3,1182.8 1333.9,1180.5 1334.5,1184.1 1335.1,1185.8 1335.7,1183.1 1336.3,1183.2 1336.9,1185.4 1337.5,1182.6 1338.1,1183.5 1338.7,1184.9 1339.3,1184.3 1339.9,1186.3 1340.5,1185.8 1341.1,1187.1 1341.7,1184.0 1342.3,1186.0 1342.9,1182.9 1343.5,1185.9 1344.1,1187.4 1344.7,1188.5 1345.3,1182.5 1345.9,1184.4 1346.5,1185.9 1347.1,1183.3 1347.7,1185.6 1348.3,1185.6 1348.9,1183.8 1349.5,1183.7 1350.1,1182.9 1350.7,1184.9 1351.3,1186.4 1351.9,1184.6 1352.5,1188.6 1353.1,1181.3 1353.7,1182.7 1354.3,1184.6 1354.9,1181.4 1355.5,1183.8 1356.1,1184.4 1356.7,1183.2 1357.3,1182.4 1357.9,1184.3 1358.5,1183.3 1359.1,1183.8 1359.7,1183.4 1360.3,1181.3 1360.9,1180.5 1361.5,1181.7 1362.1,1182.6 1362.7,1181.9 1363.3,1183.7 1363.9,1182.5 1364.5,1183.6 1365.1,1182.1 1365.7,1180.5 1366.3,1183.0 1366.9,1182.3 1367.5,1179.8 1368.1,1180.4 1368.7,1185.6 1369.3,1174.9 1369.9,1182.3 1370.5,1180.3 1371.1,1179.9 1371.7,1179.3 1372.3,1178.8 1372.9,1183.5 1373.5,1178.6 1374.1,1178.7 1374.7,1180.6 1375.3,1179.8 1375.9,1178.9 1376.5,1178.8 1377.1,1177.1 1377.7,1181.3 1378.3,1177.8 1378.9,1175.6 1379.5,1181.7 1380.1,1181.4 1380.7,1180.9 1381.3,1179.7 1381.9,1182.9 1382.5,1179.2 1383.1,1177.6 1383.7,1181.8 1384.3,1183.1 1384.9,1183.0 1385.5,1185.7 1386.1,1183.8 1386.7,1182.1 1387.3,1182.3 1387.9,1184.3 1388.5,1182.7 1389.1,1182.7 1389.7,1179.9 1390.3,1182.4 1390.9,1180.7 1391.5,1183.3 1392.1,1183.1 1392.7,1184.0 1393.3,1185.7 1393.9,1182.2 1394.5,1184.9 1395.1,1180.4 1395.7,1182.5 1396.3,1183.7 1396.9,1185.3 1397.5,1180.0 1398.1,1181.4 1398.7,1182.0 1399.3,1181.5 1399.9,1180.0 1400.5,1178.8 1401.1,1179.5 1401.7,1181.5 1402.3,1179.4 1402.9,1184.7 1403.5,1183.8 1404.1,1178.5 1404.7,1180.9 1405.3,1184.0 1405.9,1184.2 1406.5,1183.6 1407.1,1179.2 1407.7,1180.9 1408.3,1183.6 1408.9,1181.5 1409.5,1180.4 1410.1,1181.8 1410.7,1182.4 1411.3,1180.8 1411.9,1180.8 1412.5,1182.0 1413.1,1179.0 1413.7,1178.3 1414.3,1180.9 1414.9,1177.5 1415.5,1180.2 1416.1,1178.1 1416.7,1180.7 1417.3,1177.3 1417.9,1181.1 1418.5,1179.7 1419.1,1178.8 1419.7,1177.9 1420.3,1179.1 1420.9,1177.9 1421.5,1177.5 1422.1,1181.3 1422.7,1180.5 1423.3,1181.6 1423.9,1177.4 1424.5,1176.4 1425.1,1177.1 1425.7,1180.8 1426.3,1181.0 1426.9,1176.7 1427.5,1181.4 1428.1,1178.9 1428.7,1177.7 1429.3,1179.4 1429.9,1180.4 1430.5,1179.1 1431.1,1179.1 1431.7,1177.9 1432.3,1176.8 1432.9,1178.4 1433.5,1176.2 1434.1,1179.6 1434.7,1177.0 1435.3,1180.2 1435.9,1175.3 1436.5,1179.8 1437.1,1175.9 1437.7,1175.5 1438.3,1177.0 1438.9,1177.6 1439.5,1175.7 1440.1,1174.8 1440.7,1178.0 1441.3,1175.3 1441.9,1172.2 1442.5,1173.2 1443.1,1175.7 1443.7,1173.2 1444.3,1173.4 1444.9,1174.8 1445.5,1170.4 1446.1,1171.3 1446.7,1169.3 1447.3,1169.8 1447.9,1170.1 1448.5,1166.9 1449.1,1168.4 1449.7,1167.8 1450.3,1168.3 1450.9,1165.4 1451.5,1163.7 1452.1,1165.0 1452.7,1162.2 1453.3,1162.8 1453.9,1162.2 1454.5,1159.3 1455.1,1158.8 1455.7,1156.5 1456.3,1153.2 1456.9,1152.9 1457.5,1150.7 1458.1,1150.6 1458.7,1147.6 1459.3,1146.1 1459.9,1143.8 1460.5,1141.8 1461.1,1138.3 1461.7,1135.4 1462.3,1132.7 1462.9,1130.0 1463.5,1125.9 1464.1,1122.5 1464.7,1118.6 1465.3,1114.6 1465.9,1110.2 1466.5,1106.8 1467.1,1102.6 1467.7,1098.4 1468.3,1095.1 1468.9,1089.8 1469.5,1085.8 1470.1,1081.2 1470.7,1077.7 1471.3,1073.0 1471.9,1070.1 1472.5,1065.4 1473.1,1062.5 1473.7,1059.5 1474.3,1056.1 1474.9,1054.3 1475.5,1052.0 1476.1,1050.3 1476.7,1049.4 1477.3,1049.5 1477.9,1050.4 1478.5,1050.0 1479.1,1051.7 1479.7,1052.8 1480.3,1055.4 1480.9,1057.2 1481.5,1060.3 1482.1,1063.8 1482.7,1066.9 1483.3,1070.7 1483.9,1075.0 1484.5,1078.4 1485.1,1082.0 1485.7,1085.7 1486.3,1090.0 1486.9,1094.6 1487.5,1097.8 1488.1,1101.5 1488.7,1105.5 1489.3,1109.0 1489.9,1112.4 1490.5,1115.0 1491.1,1117.7 1491.7,1120.2 1492.3,1123.3 1492.9,1125.9 1493.5,1128.6 1494.1,1130.5 1494.7,1131.9 1495.3,1134.2 1495.9,1134.7 1496.5,1136.0 1497.1,1137.0 1497.7,1137.8 1498.3,1138.7 1498.9,1138.8 1499.5,1139.0 1500.1,1140.1 1500.7,1138.4 1501.3,1138.2 1501.9,1137.9 1502.5,1137.3 1503.1,1136.2 1503.7,1134.5 1504.3,1132.9 1504.9,1131.2 1505.5,1129.7 1506.1,1126.7 1506.7,1123.7 1507.3,1122.2 1507.9,1118.8 1508.5,1116.2 1509.1,1113.6 1509.7,1109.7 1510.3,1106.8 1510.9,1101.6 1511.5,1098.5 1512.1,1094.5 1512.7,1090.6 1513.3,1085.7 1513.9,1081.9 1514.5,1077.6 1515.1,1073.4 1515.7,1068.7 1516.3,1064.6 1516.9,1061.9 1517.5,1058.3 1518.1,1055.0 1518.7,1052.5 1519.3,1050.4 1519.9,1047.6 1520.5,1047.2 1521.1,1046.8 1521.7,1046.5 1522.3,1046.8 1522.9,1048.0 1523.5,1048.7 1524.1,1051.3 1524.7,1054.7 1525.3,1058.1 1525.9,1061.1 1526.5,1064.5 1527.1,1068.7 1527.7,1073.4 1528.3,1078.3 1528.9,1082.3 1529.5,1086.2 1530.1,1091.2 1530.7,1095.6 1531.3,1100.9 1531.9,1104.5 1532.5,1108.4 1533.1,1112.5 1533.7,1115.9 1534.3,1119.8 1534.9,1123.7 1535.5,1127.1 1536.1,1130.9 1536.7,1134.0 1537.3,1137.3 1537.9,1140.4 1538.5,1142.3 1539.1,1144.5 1539.7,1145.5 1540.3,1149.3 1540.9,1151.5 1541.5,1152.0 1542.1,1154.0 1542.7,1155.2 1543.3,1158.4 1543.9,1159.2 1544.5,1161.1 1545.1,1159.3 1545.7,1164.9 1546.3,1161.5 1546.9,1162.0 1547.5,1164.3 1548.1,1164.0 1548.7,1167.8 1549.3,1165.4 1549.9,1165.6 1550.5,1168.4 1551.1,1169.3 1551.7,1166.9 1552.3,1167.9 1552.9,1168.5 1553.5,1169.3 1554.1,1172.5 1554.7,1172.3 1555.3,1172.4 1555.9,1173.2 1556.5,1171.8 1557.1,1173.5 1557.7,1172.5 1558.3,1171.9 1558.9,1176.0 1559.5,1171.2 1560.1,1174.3 1560.7,1173.8 1561.3,1172.4 1561.9,1174.7 1562.5,1175.8 1563.1,1176.7 1563.7,1174.9 1564.3,1177.7 1564.9,1177.3 1565.5,1178.3 1566.1,1174.1 1566.7,1176.7 1567.3,1176.7 1567.9,1178.8 1568.5,1176.9 1569.1,1177.5 1569.7,1176.7 1570.3,1176.8 1570.9,1177.4 1571.5,1180.8 1572.1,1177.7 1572.7,1175.6 1573.3,1180.3 1573.9,1179.2 1574.5,1181.0 1575.1,1181.2 1575.7,1179.9 1576.3,1179.8 1576.9,1179.6 1577.5,1180.6 1578.1,1179.3 1578.7,1180.9 1579.3,1182.9 1579.9,1179.4 1580.5,1179.4 1581.1,1179.3 1581.7,1181.4 1582.3,1181.4 1582.9,1182.6 1583.5,1181.4 1584.1,1180.3 1584.7,1180.9 1585.3,1177.9 1585.9,1181.1 1586.5,1180.4 1587.1,1183.7 1587.7,1182.6 1588.3,1178.9 1588.9,1179.4 1589.5,1181.9 1590.1,1176.9 1590.7,1178.9 1591.3,1181.1 1591.9,1181.6 1592.5,1180.8 1593.1,1182.5 1593.7,1180.0 1594.3,1180.6 1594.9,1180.1 1595.5,1178.6 1596.1,1180.5 1596.7,1179.5 1597.3,1180.5 1597.9,1176.0 1598.5,1180.7 1599.1,1179.6 1599.7,1179.5 1600.3,1180.8 1600.9,1180.0 1601.5,1182.4 1602.1,1183.1 1602.7,1182.5 1603.3,1182.8 1603.9,1181.8 1604.5,1181.2 1605.1,1179.0 1605.7,1180.5 1606.3,1183.1 1606.9,1182.2 1607.5,1179.9 1608.1,1180.6 1608.7,1181.9 1609.3,1179.5 1609.9,1182.0 1610.5,1177.5 1611.1,1179.4 1611.7,1178.6 1612.3,1177.1 1612.9,1176.6 1613.5,1176.2 1614.1,1171.1 1614.7,1174.6 1615.3,1175.1 1615.9,1173.5 1616.5,1174.3 1617.1,1170.7 1617.7,1172.5 1618.3,1173.3 1618.9,1172.9 1619.5,1175.6 1620.1,1175.2 1620.7,1174.2 1621.3,1176.9 1621.9,1177.5 1622.5,1176.0 1623.1,1178.3 1623.7,1178.3 1624.3,1178.6 1624.9,1176.2 1625.5,1180.8 1626.1,1180.0 1626.7,1179.1 1627.3,1179.9 1627.9,1180.1 1628.5,1179.3 1629.1,1179.0 1629.7,1180.4 1630.3,1179.5 1630.9,1179.9 1631.5,1179.0 1632.1,1180.9 1632.7,1183.4 1633.3,1182.3 1633.9,1182.2 1634.5,1181.8 1635.1,1181.9 1635.7,1180.2 1636.3,1185.8 1636.9,1181.8 1637.5,1180.6 1638.1,1183.9 1638.7,1183.7 1639.3,1182.3 1639.9,1180.6 1640.5,1180.7 1641.1,1185.8 1641.7,1182.7 1642.3,1181.7 1642.9,1186.0 1643.5,1181.7 1644.1,1181.0 1644.7,1183.5 1645.3,1183.1 1645.9,1185.2 1646.5,1179.7 1647.1,1183.0 1647.7,1179.5 1648.3,1183.4 1648.9,1181.5 1649.5,1181.9 1650.1,1181.5 1650.7,1184.4 1651.3,1185.9 1651.9,1183.0 1652.5,1182.8 1653.1,1182.5 1653.7,1184.4 1654.3,1181.8 1654.9,1189.9 1655.5,1183.3 1656.1,1186.8 1656.7,1184.1 1657.3,1181.5 1657.9,1181.1 1658.5,1183.2 1659.1,1182.6 1659.7,1183.4 1660.3,1181.8 1660.9,1187.9 1661.5,1187.5 1662.1,1180.6 1662.7,1184.6 1663.3,1185.8 1663.9,1183.1 1664.5,1183.3 1665.1,1185.6 1665.7,1184.7 1666.3,1181.6 1666.9,1185.9 1667.5,1182.9 1668.1,1187.0 1668.7,1182.0 1669.3,1179.6 1669.9,1183.8 1670.5,1185.7 1671.1,1184.4 1671.7,1183.7 1672.3,1181.7 1672.9,1184.8 1673.5,1179.8 1674.1,1184.4 1674.7,1180.7 1675.3,1181.7 1675.9,1180.4 1676.5,1181.0 1677.1,1185.2 1677.7,1180.5 1678.3,1182.9 1678.9,1181.1 1679.5,1184.4 1680.1,1180.2 1680.7,1182.6 1681.3,1184.3 1681.9,1186.7 1682.5,1180.6 1683.1,1181.2 1683.7,1182.7 1684.3,1185.4 1684.9,1181.0 1685.5,1184.3 1686.1,1181.8 1686.7,1181.1 1687.3,1180.1 1687.9,1183.2 1688.5,1184.7 1689.1,1182.8 1689.7,1179.3 1690.3,1182.1 1690.9,1184.9 1691.5,1184.7 1692.1,1183.7 1692.7,1185.9 1693.3,1181.0 1693.9,1181.1 1694.5,1187.6 1695.1,1184.6 1695.7,1183.1 1696.3,1182.6 1696.9,1178.8 1697.5,1184.9 1698.1,1179.7 1698.7,1179.9 1699.3,1183.3 1699.9,1186.0 1700.5,1182.5 1701.1,1183.8 1701.7,1182.2 1702.3,1183.5 1702.9,1179.7 1703.5,1186.3 1704.1,1180.6 1704.7,1183.2 1705.3,1178.4 1705.9,1185.1 1706.5,1182.5 1707.1,1185.2 1707.7,1180.3 1708.3,1183.2 1708.9,1180.9 1709.5,1181.0 1710.1,1183.4 1710.7,1179.3 1711.3,1182.2 1711.9,1184.4 1712.5,1184.0 1713.1,1182.8 1713.7,1181.5 1714.3,1179.3 1714.9,1183.7 1715.5,1180.0 1716.1,1183.5 1716.7,1180.9 1717.3,1181.7 1717.9,1181.9 1718.5,1183.2 1719.1,1181.6 1719.7,1182.9 1720.3,1181.9 1720.9,1184.0 1721.5,1183.7 1722.1,1184.2 1722.7,1182.1 1723.3,1184.3 1723.9,1183.9 1724.5,1185.0 1725.1,1184.1 1725.7,1182.3 1726.3,1185.4 1726.9,1182.9 1727.5,1184.6 1728.1,1180.4 1728.7,1184.9 1729.3,1185.2 1729.9,1182.3 1730.5,1185.0 1731.1,1183.2 1731.7,1186.3 1732.3,1185.0 1732.9,1181.5 1733.5,1183.3 1734.1,1180.5 1734.7,1183.0 1735.3,1184.5 1735.9,1184.9 1736.5,1183.2 1737.1,1182.9 1737.7,1183.5 1738.3,1182.1 1738.9,1183.6 1739.5,1185.0 1740.1,1183.3 1740.7,1184.4 1741.3,1181.4 1741.9,1181.9 1742.5,1183.3 1743.1,1186.2 1743.7,1184.4 1744.3,1185.6 1744.9,1182.7 1745.5,1184.8 1746.1,1179.6 1746.7,1183.5 1747.3,1178.9 1747.9,1184.7 1748.5,1183.4 1749.1,1184.5 1749.7,1183.1 1750.3,1181.5 1750.9,1181.0 1751.5,1182.6 1752.1,1184.9 1752.7,1183.3 1753.3,1181.2 1753.9,1181.0 1754.5,1180.7 1755.1,1181.5 1755.7,1181.6 1756.3,1180.9 1756.9,1181.7 1757.5,1178.8 1758.1,1184.2 1758.7,1181.8 1759.3,1183.9 1759.9,1181.7 1760.5,1180.7 1761.1,1181.1 1761.7,1181.2 1762.3,1179.6 1762.9,1179.9 1763.5,1183.8 1764.1,1182.0 1764.7,1179.3 1765.3,1181.0 1765.9,1178.5 1766.5,1182.2 1767.1,1177.9 1767.7,1181.0 1768.3,1179.4 1768.9,1179.3 1769.5,1177.7 1770.1,1178.5 1770.7,1177.5 1771.3,1177.2 1771.9,1179.4 1772.5,1182.8 1773.1,1177.8 1773.7,1180.0 1774.3,1178.3 1774.9,1177.0 1775.5,1180.4 1776.1,1179.2 1776.7,1179.9 1777.3,1178.2 1777.9,1178.1 1778.5,1176.4 1779.1,1177.2 1779.7,1180.2 1780.3,1173.6 1780.9,1177.7 1781.5,1179.1 1782.1,1177.7 1782.7,1177.5 1783.3,1175.3 1783.9,1176.9 1784.5,1176.4 1785.1,1174.0 1785.7,1175.9 1786.3,1172.1 1786.9,1168.5 1787.5,1171.2 1788.1,1170.3 1788.7,1168.4 1789.3,1168.0 1789.9,1166.9 1790.5,1164.3 1791.1,1167.0 1791.7,1164.4 1792.3,1166.3 1792.9,1162.0 1793.5,1161.2 1794.1,1157.9 1794.7,1159.2 1795.3,1155.8 1795.9,1156.1 1796.5,1155.1 1797.1,1153.7 1797.7,1151.1 1798.3,1150.0 1798.9,1150.1 1799.5,1149.4 1800.1,1148.7 1800.7,1146.8 1801.3,1146.1 1801.9,1146.6 1802.5,1144.6 1803.1,1144.9 1803.7,1143.8 1804.3,1142.7 1804.9,1142.5 1805.5,1143.0 1806.1,1142.3 1806.7,1141.9 1807.3,1140.8 1807.9,1140.1 1808.5,1139.6 1809.1,1138.5 1809.7,1136.7 1810.3,1136.0 1810.9,1135.6 1811.5,1133.0 1812.1,1132.0 1812.7,1129.9 1813.3,1128.3 1813.9,1125.5 1814.5,1123.0 1815.1,1121.5 1815.7,1118.5 1816.3,1116.3 1816.9,1113.5 1817.5,1111.4 1818.1,1108.4 1818.7,1105.6 1819.3,1102.4 1819.9,1099.5 1820.5,1097.2 1821.1,1095.6 1821.7,1093.2 1822.3,1091.1 1822.9,1088.9 1823.5,1087.1 1824.1,1086.9 1824.7,1085.6 1825.3,1085.2 1825.9,1084.5 1826.5,1084.8 1827.1,1086.1 1827.7,1087.2 1828.3,1087.8 1828.9,1090.1 1829.5,1091.5 1830.1,1094.9 1830.7,1097.1 1831.3,1100.6 1831.9,1103.1 1832.5,1105.2 1833.1,1108.6 1833.7,1111.5 1834.3,1115.0 1834.9,1118.5 1835.5,1121.3 1836.1,1124.5 1836.7,1127.0 1837.3,1130.9 1837.9,1133.6 1838.5,1136.8 1839.1,1139.8 1839.7,1142.0 1840.3,1145.0 1840.9,1146.6 1841.5,1150.0 1842.1,1151.5 1842.7,1153.0 1843.3,1155.3 1843.9,1155.9 1844.5,1158.3 1845.1,1160.1 1845.7,1162.1 1846.3,1163.3 1846.9,1163.9 1847.5,1165.6 1848.1,1164.1 1848.7,1168.0 1849.3,1169.6 1849.9,1170.8 1850.5,1172.0 1851.1,1170.9 1851.7,1171.7 1852.3,1171.7 1852.9,1172.3 1853.5,1173.7 1854.1,1176.0 1854.7,1171.8 1855.3,1174.0 1855.9,1175.5 1856.5,1173.9 1857.1,1176.4 1857.7,1173.9 1858.3,1175.9 1858.9,1174.1 1859.5,1177.4 1860.1,1176.0 1860.7,1178.6 1861.3,1177.4 1861.9,1176.5 1862.5,1177.6 1863.1,1178.7 1863.7,1178.7 1864.3,1178.5 1864.9,1178.5 1865.5,1179.2 1866.1,1180.7 1866.7,1178.5 1867.3,1180.2 1867.9,1177.4 1868.5,1181.1 1869.1,1180.2 1869.7,1179.1 1870.3,1179.1 1870.9,1176.9 1871.5,1179.9 1872.1,1179.4 1872.7,1177.5 1873.3,1179.1 1873.9,1180.9 1874.5,1180.3 1875.1,1180.6 1875.7,1179.3 1876.3,1181.8 1876.9,1180.5 1877.5,1182.1 1878.1,1184.6 1878.7,1177.7 1879.3,1180.4 1879.9,1181.4 1880.5,1180.3 1881.1,1183.5 1881.7,1181.2 1882.3,1184.8 1882.9,1183.3 1883.5,1182.7 1884.1,1181.9 1884.7,1183.3 1885.3,1182.6 1885.9,1184.2 1886.5,1182.2 1887.1,1183.1 1887.7,1181.9 1888.3,1181.6 1888.9,1178.2 1889.5,1180.7 1890.1,1181.2 1890.7,1178.4 1891.3,1177.9 1891.9,1179.6 1892.5,1180.6 1893.1,1177.0 1893.7,1180.5 1894.3,1181.6 1894.9,1179.4 1895.5,1180.3 1896.1,1180.7 1896.7,1178.7 1897.3,1180.9 1897.9,1180.7 1898.5,1177.8 1899.1,1180.9 1899.7,1181.5 1900.3,1178.2 1900.9,1181.6 1901.5,1179.8 1902.1,1178.0 1902.7,1178.6 1903.3,1179.0 1903.9,1181.6 1904.5,1180.0 1905.1,1180.2 1905.7,1178.8 1906.3,1181.2 1906.9,1179.1 1907.5,1180.2 1908.1,1182.6 1908.7,1182.8 1909.3,1180.8 1909.9,1181.7 1910.5,1182.8 1911.1,1181.9 1911.7,1184.0 1912.3,1184.3 1912.9,1181.9 1913.5,1179.9 1914.1,1181.8 1914.7,1184.4 1915.3,1184.0 1915.9,1184.1 1916.5,1183.9" fill="none" stroke="#ff0000" stroke-width="5.0" stroke-linejoin="round"/>
</g>
<line x1="858.7" y1="1195.5" x2="858.7" y2="1427" stroke="#999" stroke-width="4.5"/>
<line x1="1102.4" y1="1331" x2="1102.4" y2="1427" stroke="#999" stroke-width="4.5"/>
<line x1="1897.4" y1="1366.4" x2="1897.4" y2="1427" stroke="#999" stroke-width="4.5"/>
<line x1="347.6" y1="1455.7" x2="347.6" y2="1658" stroke="#000096" stroke-width="5"/>
<line x1="807.3" y1="1632.2" x2="807.3" y2="1658" stroke="#000096" stroke-width="5"/>
<line x1="842.4" y1="1608.8" x2="842.4" y2="1658" stroke="#000096" stroke-width="5"/>
<line x1="872.7" y1="1632.2" x2="872.7" y2="1658" stroke="#000096" stroke-width="5"/>
<line x1="1247.1" y1="1575.5" x2="1247.1" y2="1658" stroke="#000096" stroke-width="5"/>
<line x1="1477.1" y1="1609.2" x2="1477.1" y2="1658" stroke="#000096" stroke-width="5"/>
<line x1="1522.9" y1="1609.2" x2="1522.9" y2="1658" stroke="#000096" stroke-width="5"/>
<line x1="1802.6" y1="1648" x2="1802.6" y2="1658" stroke="#000096" stroke-width="5"/>
<line x1="1824.9" y1="1623.3" x2="1824.9" y2="1658" stroke="#000096" stroke-width="5"/>
<line x1="428.3" y1="1429" x2="428.3" y2="1658" stroke="#00e040" stroke-width="5"/>
<line x1="767.6" y1="1522" x2="767.6" y2="1658" stroke="#00e040" stroke-width="5"/>
<line x1="893.5" y1="1642.4" x2="893.5" y2="1658" stroke="#00e040" stroke-width="5"/>
<line x1="971" y1="1608.8" x2="971" y2="1658" stroke="#00e040" stroke-width="5"/>
<line x1="1084.1" y1="1646.5" x2="1084.1" y2="1658" stroke="#00e040" stroke-width="5"/>
<line x1="1488" y1="1541.8" x2="1488" y2="1658" stroke="#00e040" stroke-width="5"/>
<line x1="1579.2" y1="1614.1" x2="1579.2" y2="1658" stroke="#00e040" stroke-width="5"/>
<line x1="1816.6" y1="1640" x2="1816.6" y2="1658" stroke="#00e040" stroke-width="5"/>
<line x1="1872.3" y1="1637.2" x2="1872.3" y2="1658" stroke="#00e040" stroke-width="5"/>
<rect x="140.5" y="23" width="1776.5" height="1635.5" fill="none" stroke="#000" stroke-width="5"/>
<line x1="140" y1="1188.5" x2="1917" y2="1188.5" stroke="#000" stroke-width="4.5"/>
<line x1="140" y1="1427.5" x2="1917" y2="1427.5" stroke="#000" stroke-width="4.5"/>
<line x1="140.5" y1="1658" x2="140.5" y2="1679" stroke="#000" stroke-width="5"/>
<text transform="translate(140.5,1749.2) scale(1.0,0.985)" x="0" y="0" font-family="'Liberation Sans', Arial, sans-serif" font-size="72.5" text-anchor="middle" >20</text>
<line x1="239.2" y1="1658" x2="239.2" y2="1669" stroke="#000" stroke-width="5"/>
<line x1="337.9" y1="1658" x2="337.9" y2="1679" stroke="#000" stroke-width="5"/>
<text transform="translate(337.9,1749.2) scale(1.0,0.985)" x="0" y="0" font-family="'Liberation Sans', Arial, sans-serif" font-size="72.5" text-anchor="middle" >25</text>
<line x1="436.6" y1="1658" x2="436.6" y2="1669" stroke="#000" stroke-width="5"/>
<line x1="535.3" y1="1658" x2="535.3" y2="1679" stroke="#000" stroke-width="5"/>
<text transform="translate(535.3,1749.2) scale(1.0,0.985)" x="0" y="0" font-family="'Liberation Sans', Arial, sans-serif" font-size="72.5" text-anchor="middle" >30</text>
<line x1="634.0" y1="1658" x2="634.0" y2="1669" stroke="#000" stroke-width="5"/>
<line x1="732.7" y1="1658" x2="732.7" y2="1679" stroke="#000" stroke-width="5"/>
<text transform="translate(732.7,1749.2) scale(1.0,0.985)" x="0" y="0" font-family="'Liberation Sans', Arial, sans-serif" font-size="72.5" text-anchor="middle" >35</text>
<line x1="831.4" y1="1658" x2="831.4" y2="1669" stroke="#000" stroke-width="5"/>
<line x1="930.1" y1="1658" x2="930.1" y2="1679" stroke="#000" stroke-width="5"/>
<text transform="translate(930.1,1749.2) scale(1.0,0.985)" x="0" y="0" font-family="'Liberation Sans', Arial, sans-serif" font-size="72.5" text-anchor="middle" >40</text>
<line x1="1028.8" y1="1658" x2="1028.8" y2="1669" stroke="#000" stroke-width="5"/>
<line x1="1127.4" y1="1658" x2="1127.4" y2="1679" stroke="#000" stroke-width="5"/>
<text transform="translate(1127.4,1749.2) scale(1.0,0.985)" x="0" y="0" font-family="'Liberation Sans', Arial, sans-serif" font-size="72.5" text-anchor="middle" >45</text>
<line x1="1226.1" y1="1658" x2="1226.1" y2="1669" stroke="#000" stroke-width="5"/>
<line x1="1324.8" y1="1658" x2="1324.8" y2="1679" stroke="#000" stroke-width="5"/>
<text transform="translate(1324.8,1749.2) scale(1.0,0.985)" x="0" y="0" font-family="'Liberation Sans', Arial, sans-serif" font-size="72.5" text-anchor="middle" >50</text>
<line x1="1423.5" y1="1658" x2="1423.5" y2="1669" stroke="#000" stroke-width="5"/>
<line x1="1522.2" y1="1658" x2="1522.2" y2="1679" stroke="#000" stroke-width="5"/>
<text transform="translate(1522.2,1749.2) scale(1.0,0.985)" x="0" y="0" font-family="'Liberation Sans', Arial, sans-serif" font-size="72.5" text-anchor="middle" >55</text>
<line x1="1620.9" y1="1658" x2="1620.9" y2="1669" stroke="#000" stroke-width="5"/>
<line x1="1719.6" y1="1658" x2="1719.6" y2="1679" stroke="#000" stroke-width="5"/>
<text transform="translate(1719.6,1749.2) scale(1.0,0.985)" x="0" y="0" font-family="'Liberation Sans', Arial, sans-serif" font-size="72.5" text-anchor="middle" >60</text>
<line x1="1818.3" y1="1658" x2="1818.3" y2="1669" stroke="#000" stroke-width="5"/>
<line x1="1917.0" y1="1658" x2="1917.0" y2="1679" stroke="#000" stroke-width="5"/>
<text transform="translate(1917.0,1749.2) scale(1.0,0.985)" x="0" y="0" font-family="'Liberation Sans', Arial, sans-serif" font-size="72.5" text-anchor="middle" >65</text>
<line x1="1306.6" y1="84.4" x2="1457" y2="84.4" stroke="#000" stroke-width="5"/>
<line x1="1306.6" y1="164.9" x2="1457" y2="164.9" stroke="#ff0000" stroke-width="5"/>
<text transform="translate(1472,106.6) scale(1.0,1.04)" x="0" y="0" font-family="'Liberation Sans', Arial, sans-serif" font-size="66" text-anchor="start" >TWV-7-0-Ag</text>
<text transform="translate(1472,187) scale(1.0,1.04)" x="0" y="0" font-family="'Liberation Sans', Arial, sans-serif" font-size="66" text-anchor="start" >TWV-7-1-Ag</text>
<text transform="translate(323.8,147) scale(1.0,1.04)" x="0" y="0" font-family="'Liberation Sans', Arial, sans-serif" font-size="80" text-anchor="start" >A</text>
<text transform="translate(399.9,729) scale(1.05,1.025)" x="0" y="0" font-family="'Liberation Sans', Arial, sans-serif" font-size="80" text-anchor="start" >R</text>
<text transform="translate(736.8,747.2) scale(1.05,1.025)" x="0" y="0" font-family="'Liberation Sans', Arial, sans-serif" font-size="80" text-anchor="start" >R</text>
<text transform="translate(774.6,673.7) scale(1.0,1.04)" x="0" y="0" font-family="'Liberation Sans', Arial, sans-serif" font-size="80" text-anchor="start" >A</text>
<text transform="translate(815.9,609.3) scale(1.0,1.04)" x="0" y="0" font-family="'Liberation Sans', Arial, sans-serif" font-size="80" text-anchor="start" >A</text>
<text transform="translate(862.2,703.5) scale(1.05,1.025)" x="0" y="0" font-family="'Liberation Sans', Arial, sans-serif" font-size="80" text-anchor="start" >R</text>
<text transform="translate(1219.8,539.7) scale(1.0,1.04)" x="0" y="0" font-family="'Liberation Sans', Arial, sans-serif" font-size="80" text-anchor="start" >A</text>
<text transform="translate(1450.8,643.3) scale(1.0,1.04)" x="0" y="0" font-family="'Liberation Sans', Arial, sans-serif" font-size="80" text-anchor="start" >A</text>
<text transform="translate(1497.1,633.5) scale(1.05,1.025)" x="0" y="0" font-family="'Liberation Sans', Arial, sans-serif" font-size="80" text-anchor="start" >R</text>
<text transform="translate(1761.0,723.3) scale(1.0,1.04)" x="0" y="0" font-family="'Liberation Sans', Arial, sans-serif" font-size="80" text-anchor="start" >A</text>
<text transform="translate(1802.5,664.7) scale(1.05,1.025)" x="0" y="0" font-family="'Liberation Sans', Arial, sans-serif" font-size="80" text-anchor="start" >R</text>
<text transform="translate(385,1062.3) scale(1.0,1.04)" x="0" y="0" font-family="'Liberation Sans', Arial, sans-serif" font-size="66" text-anchor="start" >AgCl</text>
<text transform="translate(552,1107) scale(1.0,1.04)" x="0" y="0" font-family="'Liberation Sans', Arial, sans-serif" font-size="66" text-anchor="start" >AgCl</text>
<text transform="translate(1074.2,1122.9) scale(1.0,1.04)" x="0" y="0" font-family="'Liberation Sans', Arial, sans-serif" font-size="66" text-anchor="start" >AgCl</text>
<rect x="443.2" y="1084" width="5.6" height="41.7" fill="#000"/>
<text transform="translate(159,1255.6) scale(1.0,1.04)" x="0" y="0" font-family="'Liberation Sans', Arial, sans-serif" font-size="66" text-anchor="start" >Ag</text>
<text transform="translate(159.5,1495.3) scale(1.0,1.04)" x="0" y="0" font-family="'Liberation Sans', Arial, sans-serif" font-size="66" text-anchor="start" >TiO<tspan font-size="38.5" dy="21.4">2</tspan></text>
<text transform="translate(796.2,1845.3) scale(1,1.0)" font-family="'Liberation Serif', 'Times New Roman', serif" font-size="95">2</text>
<text transform="translate(841.4,1845.8) scale(1.1,0.945)" font-family="'Liberation Serif', 'Times New Roman', serif" font-size="95">θ</text>
<text transform="translate(914.7,1844.2) scale(1,1.0)" font-family="'Liberation Sans', Arial, sans-serif" font-size="91">(degree)</text>
<text transform="translate(97.4,892.0) rotate(-90) scale(1,1.03)" font-family="'Liberation Sans', Arial, sans-serif" font-size="91" xml:space="preserve" style="white-space:pre">Intensity  (CPS)</text>
</svg></body></html>
